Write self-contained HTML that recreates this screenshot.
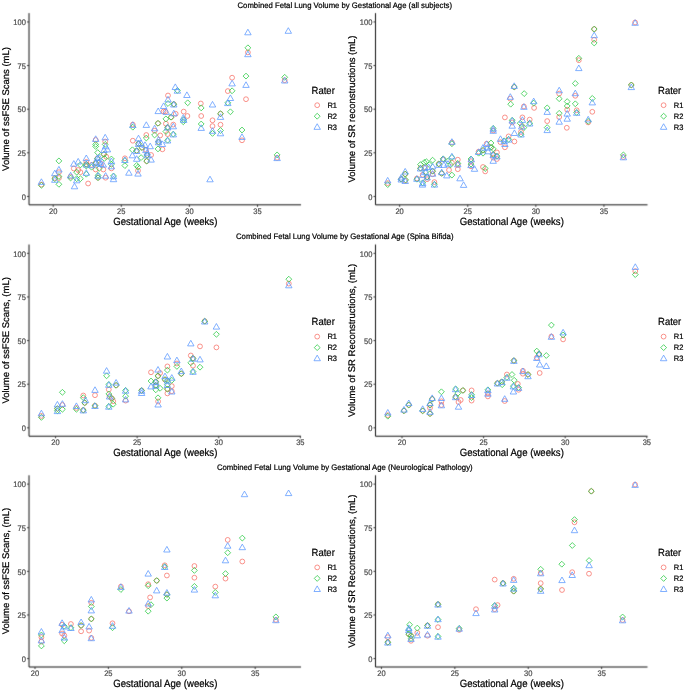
<!DOCTYPE html>
<html><head><meta charset="utf-8"><style>
html,body{margin:0;padding:0;background:#fff;width:685px;height:690px;overflow:hidden;font-family:"Liberation Sans", sans-serif;}
svg{display:block;will-change:transform;text-rendering:geometricPrecision;}
</style></head><body>
<svg width="685" height="690" viewBox="0 0 685 690" font-family='"Liberation Sans", sans-serif'>
<defs><filter id="b" x="0" y="0" width="685" height="690" filterUnits="userSpaceOnUse" color-interpolation-filters="sRGB"><feConvolveMatrix order="3" kernelMatrix="1 6 1 6 36 6 1 6 1" divisor="64" edgeMode="duplicate" preserveAlpha="true"/></filter></defs><g filter="url(#b)">
<rect width="685" height="690" fill="#fff"/>
<path d="M29.03 13.14V204.84H301.0" fill="none" stroke="#111111" stroke-width="1" stroke-linejoin="round" stroke-linecap="butt"/>
<path d="M27.03 196.44H29.03" stroke="#333333" stroke-width="1"/>
<path d="M27.03 152.81H29.03" stroke="#333333" stroke-width="1"/>
<path d="M27.03 109.19H29.03" stroke="#333333" stroke-width="1"/>
<path d="M27.03 65.56H29.03" stroke="#333333" stroke-width="1"/>
<path d="M27.03 21.94H29.03" stroke="#333333" stroke-width="1"/>
<path d="M53.20 204.84V206.84" stroke="#333333" stroke-width="1"/>
<path d="M121.30 204.84V206.84" stroke="#333333" stroke-width="1"/>
<path d="M189.40 204.84V206.84" stroke="#333333" stroke-width="1"/>
<path d="M257.50 204.84V206.84" stroke="#333333" stroke-width="1"/>
<path d="M375.5 13.14V204.84H647.5" fill="none" stroke="#111111" stroke-width="1" stroke-linejoin="round" stroke-linecap="butt"/>
<path d="M373.5 196.44H375.5" stroke="#333333" stroke-width="1"/>
<path d="M373.5 152.81H375.5" stroke="#333333" stroke-width="1"/>
<path d="M373.5 109.19H375.5" stroke="#333333" stroke-width="1"/>
<path d="M373.5 65.56H375.5" stroke="#333333" stroke-width="1"/>
<path d="M373.5 21.94H375.5" stroke="#333333" stroke-width="1"/>
<path d="M399.65 204.84V206.84" stroke="#333333" stroke-width="1"/>
<path d="M467.75 204.84V206.84" stroke="#333333" stroke-width="1"/>
<path d="M535.85 204.84V206.84" stroke="#333333" stroke-width="1"/>
<path d="M603.95 204.84V206.84" stroke="#333333" stroke-width="1"/>
<path d="M29.03 244.53V436.23H301.0" fill="none" stroke="#111111" stroke-width="1" stroke-linejoin="round" stroke-linecap="butt"/>
<path d="M27.03 427.83H29.03" stroke="#333333" stroke-width="1"/>
<path d="M27.03 384.21H29.03" stroke="#333333" stroke-width="1"/>
<path d="M27.03 340.58H29.03" stroke="#333333" stroke-width="1"/>
<path d="M27.03 296.96H29.03" stroke="#333333" stroke-width="1"/>
<path d="M27.03 253.33H29.03" stroke="#333333" stroke-width="1"/>
<path d="M55.55 436.23V438.23" stroke="#333333" stroke-width="1"/>
<path d="M137.15 436.23V438.23" stroke="#333333" stroke-width="1"/>
<path d="M218.75 436.23V438.23" stroke="#333333" stroke-width="1"/>
<path d="M300.35 436.23V438.23" stroke="#333333" stroke-width="1"/>
<path d="M375.5 244.53V436.23H647.5" fill="none" stroke="#111111" stroke-width="1" stroke-linejoin="round" stroke-linecap="butt"/>
<path d="M373.5 427.83H375.5" stroke="#333333" stroke-width="1"/>
<path d="M373.5 384.21H375.5" stroke="#333333" stroke-width="1"/>
<path d="M373.5 340.58H375.5" stroke="#333333" stroke-width="1"/>
<path d="M373.5 296.96H375.5" stroke="#333333" stroke-width="1"/>
<path d="M373.5 253.33H375.5" stroke="#333333" stroke-width="1"/>
<path d="M402.00 436.23V438.23" stroke="#333333" stroke-width="1"/>
<path d="M483.60 436.23V438.23" stroke="#333333" stroke-width="1"/>
<path d="M565.20 436.23V438.23" stroke="#333333" stroke-width="1"/>
<path d="M646.80 436.23V438.23" stroke="#333333" stroke-width="1"/>
<path d="M29.03 475.30V667.0H301.0" fill="none" stroke="#111111" stroke-width="1" stroke-linejoin="round" stroke-linecap="butt"/>
<path d="M27.03 658.60H29.03" stroke="#333333" stroke-width="1"/>
<path d="M27.03 614.98H29.03" stroke="#333333" stroke-width="1"/>
<path d="M27.03 571.35H29.03" stroke="#333333" stroke-width="1"/>
<path d="M27.03 527.73H29.03" stroke="#333333" stroke-width="1"/>
<path d="M27.03 484.10H29.03" stroke="#333333" stroke-width="1"/>
<path d="M35.00 667.0V669.00" stroke="#333333" stroke-width="1"/>
<path d="M108.40 667.0V669.00" stroke="#333333" stroke-width="1"/>
<path d="M181.80 667.0V669.00" stroke="#333333" stroke-width="1"/>
<path d="M255.20 667.0V669.00" stroke="#333333" stroke-width="1"/>
<path d="M375.5 475.30V667.0H647.5" fill="none" stroke="#111111" stroke-width="1" stroke-linejoin="round" stroke-linecap="butt"/>
<path d="M373.5 658.60H375.5" stroke="#333333" stroke-width="1"/>
<path d="M373.5 614.98H375.5" stroke="#333333" stroke-width="1"/>
<path d="M373.5 571.35H375.5" stroke="#333333" stroke-width="1"/>
<path d="M373.5 527.73H375.5" stroke="#333333" stroke-width="1"/>
<path d="M373.5 484.10H375.5" stroke="#333333" stroke-width="1"/>
<path d="M381.45 667.0V669.00" stroke="#333333" stroke-width="1"/>
<path d="M454.85 667.0V669.00" stroke="#333333" stroke-width="1"/>
<path d="M528.25 667.0V669.00" stroke="#333333" stroke-width="1"/>
<path d="M601.65 667.0V669.00" stroke="#333333" stroke-width="1"/>
</g>
<g><text transform="translate(237.54,7.75) scale(0.9663,1)" font-size="8.0" fill="#000" stroke="#000" stroke-width="0.22">Combined Fetal Lung Volume by Gestational Age (all subjects)</text>
<g fill="none" stroke-width="0.8"><circle cx="41.4" cy="184.6" r="2.40" stroke="#F8766D"/><circle cx="58.9" cy="172.2" r="2.40" stroke="#F8766D"/><circle cx="58.9" cy="178.0" r="2.40" stroke="#F8766D"/><circle cx="54.8" cy="178.0" r="2.40" stroke="#F8766D"/><circle cx="70.6" cy="176.6" r="2.40" stroke="#F8766D"/><circle cx="73.8" cy="168.5" r="2.40" stroke="#F8766D"/><circle cx="78.2" cy="170.0" r="2.40" stroke="#F8766D"/><circle cx="80.4" cy="172.2" r="2.40" stroke="#F8766D"/><circle cx="95.7" cy="140.0" r="2.40" stroke="#F8766D"/><circle cx="105.2" cy="141.5" r="2.40" stroke="#F8766D"/><circle cx="124.9" cy="158.3" r="2.40" stroke="#F8766D"/><circle cx="165.5" cy="111.6" r="2.40" stroke="#F8766D"/><circle cx="175.7" cy="113.8" r="2.40" stroke="#F8766D"/><circle cx="183.7" cy="111.6" r="2.40" stroke="#F8766D"/><circle cx="187.4" cy="116.0" r="2.40" stroke="#F8766D"/><circle cx="201.2" cy="116.0" r="2.40" stroke="#F8766D"/><circle cx="168.0" cy="95.5" r="2.40" stroke="#F8766D"/><circle cx="163.6" cy="111.5" r="2.40" stroke="#F8766D"/><circle cx="173.8" cy="104.2" r="2.40" stroke="#F8766D"/><circle cx="200.8" cy="103.5" r="2.40" stroke="#F8766D"/><circle cx="212.5" cy="120.3" r="2.40" stroke="#F8766D"/><circle cx="212.5" cy="126.1" r="2.40" stroke="#F8766D"/><circle cx="220.5" cy="113.7" r="2.40" stroke="#F8766D"/><circle cx="220.5" cy="124.7" r="2.40" stroke="#F8766D"/><circle cx="227.8" cy="91.1" r="2.40" stroke="#F8766D"/><circle cx="247.9" cy="52.4" r="2.40" stroke="#F8766D"/><circle cx="246.0" cy="99.2" r="2.40" stroke="#F8766D"/><circle cx="232.1" cy="77.7" r="2.40" stroke="#F8766D"/><circle cx="242.0" cy="140.3" r="2.40" stroke="#F8766D"/><circle cx="277.1" cy="157.8" r="2.40" stroke="#F8766D"/><circle cx="284.7" cy="80.2" r="2.40" stroke="#F8766D"/><circle cx="103.9" cy="154.3" r="2.40" stroke="#F8766D"/><circle cx="106.2" cy="156.7" r="2.40" stroke="#F8766D"/><circle cx="86.3" cy="161.9" r="2.40" stroke="#F8766D"/><circle cx="86.3" cy="164.3" r="2.40" stroke="#F8766D"/><circle cx="91.6" cy="164.9" r="2.40" stroke="#F8766D"/><circle cx="97.4" cy="158.5" r="2.40" stroke="#F8766D"/><circle cx="95.7" cy="163.1" r="2.40" stroke="#F8766D"/><circle cx="100.9" cy="163.7" r="2.40" stroke="#F8766D"/><circle cx="95.7" cy="169.5" r="2.40" stroke="#F8766D"/><circle cx="103.3" cy="169.5" r="2.40" stroke="#F8766D"/><circle cx="111.4" cy="168.4" r="2.40" stroke="#F8766D"/><circle cx="98.0" cy="177.7" r="2.40" stroke="#F8766D"/><circle cx="105.6" cy="177.7" r="2.40" stroke="#F8766D"/><circle cx="88.1" cy="183.5" r="2.40" stroke="#F8766D"/><circle cx="132.8" cy="124.6" r="2.40" stroke="#F8766D"/><circle cx="158.0" cy="123.3" r="2.40" stroke="#F8766D"/><circle cx="171.1" cy="117.2" r="2.40" stroke="#F8766D"/><circle cx="154.6" cy="130.7" r="2.40" stroke="#F8766D"/><circle cx="146.3" cy="135.0" r="2.40" stroke="#F8766D"/><circle cx="160.2" cy="135.4" r="2.40" stroke="#F8766D"/><circle cx="165.9" cy="123.7" r="2.40" stroke="#F8766D"/><circle cx="167.6" cy="127.9" r="2.40" stroke="#F8766D"/><circle cx="167.6" cy="134.1" r="2.40" stroke="#F8766D"/><circle cx="173.3" cy="124.6" r="2.40" stroke="#F8766D"/><circle cx="132.8" cy="140.7" r="2.40" stroke="#F8766D"/><circle cx="138.5" cy="143.7" r="2.40" stroke="#F8766D"/><circle cx="158.5" cy="142.0" r="2.40" stroke="#F8766D"/><circle cx="162.4" cy="149.3" r="2.40" stroke="#F8766D"/><circle cx="136.7" cy="150.7" r="2.40" stroke="#F8766D"/><circle cx="142.0" cy="147.6" r="2.40" stroke="#F8766D"/><circle cx="145.9" cy="149.8" r="2.40" stroke="#F8766D"/><circle cx="147.2" cy="155.0" r="2.40" stroke="#F8766D"/><circle cx="151.1" cy="155.0" r="2.40" stroke="#F8766D"/><circle cx="146.7" cy="161.1" r="2.40" stroke="#F8766D"/><circle cx="138.0" cy="170.7" r="2.40" stroke="#F8766D"/><path d="M41.4 182.37L44.33 185.3L41.4 188.23L38.47 185.3Z" stroke="#2ECC48"/><path d="M58.9 157.97L61.83 160.9L58.9 163.83L55.97 160.9Z" stroke="#2ECC48"/><path d="M58.9 173.57L61.83 176.5L58.9 179.43L55.97 176.5Z" stroke="#2ECC48"/><path d="M58.9 181.37L61.83 184.3L58.9 187.23L55.97 184.3Z" stroke="#2ECC48"/><path d="M54.8 175.77L57.73 178.7L54.8 181.63L51.87 178.7Z" stroke="#2ECC48"/><path d="M70.6 175.07L73.53 178.0L70.6 180.93L67.67 178.0Z" stroke="#2ECC48"/><path d="M80.4 161.97L83.33 164.9L80.4 167.83L77.47 164.9Z" stroke="#2ECC48"/><path d="M76.7 169.27L79.63 172.2L76.7 175.13L73.77 172.2Z" stroke="#2ECC48"/><path d="M76.7 175.77L79.63 178.7L76.7 181.63L73.77 178.7Z" stroke="#2ECC48"/><path d="M80.4 175.77L83.33 178.7L80.4 181.63L77.47 178.7Z" stroke="#2ECC48"/><path d="M95.7 141.47L98.63 144.4L95.7 147.33L92.77 144.4Z" stroke="#2ECC48"/><path d="M105.2 141.47L108.13 144.4L105.2 147.33L102.27 144.4Z" stroke="#2ECC48"/><path d="M124.9 157.57L127.83 160.5L124.9 163.43L121.97 160.5Z" stroke="#2ECC48"/><path d="M124.9 162.67L127.83 165.6L124.9 168.53L121.97 165.6Z" stroke="#2ECC48"/><path d="M183.7 116.67L186.63 119.6L183.7 122.53L180.77 119.6Z" stroke="#2ECC48"/><path d="M201.2 104.97L204.13 107.9L201.2 110.83L198.27 107.9Z" stroke="#2ECC48"/><path d="M201.2 121.07L204.13 124.0L201.2 126.93L198.27 124.0Z" stroke="#2ECC48"/><path d="M177.4 87.47L180.33 90.4L177.4 93.33L174.47 90.4Z" stroke="#2ECC48"/><path d="M168.0 100.57L170.93 103.5L168.0 106.43L165.07 103.5Z" stroke="#2ECC48"/><path d="M173.8 101.27L176.73 104.2L173.8 107.13L170.87 104.2Z" stroke="#2ECC48"/><path d="M187.7 99.87L190.63 102.8L187.7 105.73L184.77 102.8Z" stroke="#2ECC48"/><path d="M183.3 118.87L186.23 121.8L183.3 124.73L180.37 121.8Z" stroke="#2ECC48"/><path d="M212.5 130.47L215.43 133.4L212.5 136.33L209.57 133.4Z" stroke="#2ECC48"/><path d="M220.5 110.77L223.43 113.7L220.5 116.63L217.57 113.7Z" stroke="#2ECC48"/><path d="M220.5 127.57L223.43 130.5L220.5 133.43L217.57 130.5Z" stroke="#2ECC48"/><path d="M227.8 99.87L230.73 102.8L227.8 105.73L224.87 102.8Z" stroke="#2ECC48"/><path d="M247.9 44.87L250.83 47.8L247.9 50.73L244.97 47.8Z" stroke="#2ECC48"/><path d="M246.0 73.17L248.93 76.1L246.0 79.03L243.07 76.1Z" stroke="#2ECC48"/><path d="M232.1 87.87L235.03 90.8L232.1 93.73L229.17 90.8Z" stroke="#2ECC48"/><path d="M230.4 108.87L233.33 111.8L230.4 114.73L227.47 111.8Z" stroke="#2ECC48"/><path d="M242.0 127.07L244.93 130.0L242.0 132.93L239.07 130.0Z" stroke="#2ECC48"/><path d="M277.1 151.97L280.03 154.9L277.1 157.83L274.17 154.9Z" stroke="#2ECC48"/><path d="M284.7 74.37L287.63 77.3L284.7 80.23L281.77 77.3Z" stroke="#2ECC48"/><path d="M95.7 143.57L98.63 146.5L95.7 149.43L92.77 146.5Z" stroke="#2ECC48"/><path d="M97.7 149.67L100.63 152.6L97.7 155.53L94.77 152.6Z" stroke="#2ECC48"/><path d="M103.9 151.37L106.83 154.3L103.9 157.23L100.97 154.3Z" stroke="#2ECC48"/><path d="M104.4 155.47L107.33 158.4L104.4 161.33L101.47 158.4Z" stroke="#2ECC48"/><path d="M111.4 156.07L114.33 159.0L111.4 161.93L108.47 159.0Z" stroke="#2ECC48"/><path d="M86.3 161.37L89.23 164.3L86.3 167.23L83.37 164.3Z" stroke="#2ECC48"/><path d="M86.3 163.07L89.23 166.0L86.3 168.93L83.37 166.0Z" stroke="#2ECC48"/><path d="M91.6 164.27L94.53 167.2L91.6 170.13L88.67 167.2Z" stroke="#2ECC48"/><path d="M97.4 155.57L100.33 158.5L97.4 161.43L94.47 158.5Z" stroke="#2ECC48"/><path d="M95.7 160.17L98.63 163.1L95.7 166.03L92.77 163.1Z" stroke="#2ECC48"/><path d="M99.2 165.47L102.13 168.4L99.2 171.33L96.27 168.4Z" stroke="#2ECC48"/><path d="M111.4 161.37L114.33 164.3L111.4 167.23L108.47 164.3Z" stroke="#2ECC48"/><path d="M86.3 171.27L89.23 174.2L86.3 177.13L83.37 174.2Z" stroke="#2ECC48"/><path d="M98.0 172.47L100.93 175.4L98.0 178.33L95.07 175.4Z" stroke="#2ECC48"/><path d="M98.0 174.77L100.93 177.7L98.0 180.63L95.07 177.7Z" stroke="#2ECC48"/><path d="M113.5 173.07L116.43 176.0L113.5 178.93L110.57 176.0Z" stroke="#2ECC48"/><path d="M132.8 124.27L135.73 127.2L132.8 130.13L129.87 127.2Z" stroke="#2ECC48"/><path d="M158.0 120.37L160.93 123.3L158.0 126.23L155.07 123.3Z" stroke="#2ECC48"/><path d="M165.9 115.97L168.83 118.9L165.9 121.83L162.97 118.9Z" stroke="#2ECC48"/><path d="M171.1 114.27L174.03 117.2L171.1 120.13L168.17 117.2Z" stroke="#2ECC48"/><path d="M154.6 132.07L157.53 135.0L154.6 137.93L151.67 135.0Z" stroke="#2ECC48"/><path d="M146.3 135.07L149.23 138.0L146.3 140.93L143.37 138.0Z" stroke="#2ECC48"/><path d="M167.6 124.27L170.53 127.2L167.6 130.13L164.67 127.2Z" stroke="#2ECC48"/><path d="M165.9 128.57L168.83 131.5L165.9 134.43L162.97 131.5Z" stroke="#2ECC48"/><path d="M173.3 131.17L176.23 134.1L173.3 137.03L170.37 134.1Z" stroke="#2ECC48"/><path d="M167.6 137.27L170.53 140.2L167.6 143.13L164.67 140.2Z" stroke="#2ECC48"/><path d="M138.5 140.77L141.43 143.7L138.5 146.63L135.57 143.7Z" stroke="#2ECC48"/><path d="M158.5 139.07L161.43 142.0L158.5 144.93L155.57 142.0Z" stroke="#2ECC48"/><path d="M158.0 145.97L160.93 148.9L158.0 151.83L155.07 148.9Z" stroke="#2ECC48"/><path d="M132.4 146.87L135.33 149.8L132.4 152.73L129.47 149.8Z" stroke="#2ECC48"/><path d="M136.7 147.77L139.63 150.7L136.7 153.63L133.77 150.7Z" stroke="#2ECC48"/><path d="M142.0 144.67L144.93 147.6L142.0 150.53L139.07 147.6Z" stroke="#2ECC48"/><path d="M141.1 154.67L144.03 157.6L141.1 160.53L138.17 157.6Z" stroke="#2ECC48"/><path d="M147.2 152.07L150.13 155.0L147.2 157.93L144.27 155.0Z" stroke="#2ECC48"/><path d="M146.7 158.17L149.63 161.1L146.7 164.03L143.77 161.1Z" stroke="#2ECC48"/><path d="M136.7 162.47L139.63 165.4L136.7 168.33L133.77 165.4Z" stroke="#2ECC48"/><path d="M138.0 164.27L140.93 167.2L138.0 170.13L135.07 167.2Z" stroke="#2ECC48"/><path d="M41.4 178.80L44.63 184.40L38.17 184.40Z" stroke="#619CFF"/><path d="M58.9 166.40L62.13 172.00L55.67 172.00Z" stroke="#619CFF"/><path d="M54.8 170.10L58.03 175.70L51.57 175.70Z" stroke="#619CFF"/><path d="M54.8 176.70L58.03 182.30L51.57 182.30Z" stroke="#619CFF"/><path d="M70.6 172.30L73.83 177.90L67.37 177.90Z" stroke="#619CFF"/><path d="M74.5 183.20L77.73 188.80L71.27 188.80Z" stroke="#619CFF"/><path d="M73.8 160.60L77.03 166.20L70.57 166.20Z" stroke="#619CFF"/><path d="M78.2 158.40L81.43 164.00L74.97 164.00Z" stroke="#619CFF"/><path d="M76.7 177.20L79.93 182.80L73.47 182.80Z" stroke="#619CFF"/><path d="M95.7 135.80L98.93 141.40L92.47 141.40Z" stroke="#619CFF"/><path d="M105.2 134.30L108.43 139.90L101.97 139.90Z" stroke="#619CFF"/><path d="M124.9 156.90L128.13 162.50L121.67 162.50Z" stroke="#619CFF"/><path d="M158.2 108.00L161.43 113.60L154.97 113.60Z" stroke="#619CFF"/><path d="M166.2 108.80L169.43 114.40L162.97 114.40Z" stroke="#619CFF"/><path d="M183.7 116.80L186.93 122.40L180.47 122.40Z" stroke="#619CFF"/><path d="M201.2 124.80L204.43 130.40L197.97 130.40Z" stroke="#619CFF"/><path d="M210.0 176.20L213.23 181.80L206.77 181.80Z" stroke="#619CFF"/><path d="M175.3 83.90L178.53 89.50L172.07 89.50Z" stroke="#619CFF"/><path d="M177.4 87.60L180.63 93.20L174.17 93.20Z" stroke="#619CFF"/><path d="M168.0 96.30L171.23 101.90L164.77 101.90Z" stroke="#619CFF"/><path d="M163.6 102.90L166.83 108.50L160.37 108.50Z" stroke="#619CFF"/><path d="M173.8 101.40L177.03 107.00L170.57 107.00Z" stroke="#619CFF"/><path d="M186.9 91.90L190.13 97.50L183.67 97.50Z" stroke="#619CFF"/><path d="M173.8 110.20L177.03 115.80L170.57 115.80Z" stroke="#619CFF"/><path d="M183.3 114.60L186.53 120.20L180.07 120.20Z" stroke="#619CFF"/><path d="M212.5 101.40L215.73 107.00L209.27 107.00Z" stroke="#619CFF"/><path d="M212.5 127.70L215.73 133.30L209.27 133.30Z" stroke="#619CFF"/><path d="M220.5 113.80L223.73 119.40L217.27 119.40Z" stroke="#619CFF"/><path d="M220.5 130.20L223.73 135.80L217.27 135.80Z" stroke="#619CFF"/><path d="M227.8 100.00L231.03 105.60L224.57 105.60Z" stroke="#619CFF"/><path d="M247.9 29.20L251.13 34.80L244.67 34.80Z" stroke="#619CFF"/><path d="M247.9 51.10L251.13 56.70L244.67 56.70Z" stroke="#619CFF"/><path d="M288.3 27.70L291.53 33.30L285.07 33.30Z" stroke="#619CFF"/><path d="M246.0 81.80L249.23 87.40L242.77 87.40Z" stroke="#619CFF"/><path d="M232.1 80.30L235.33 85.90L228.87 85.90Z" stroke="#619CFF"/><path d="M230.4 94.90L233.63 100.50L227.17 100.50Z" stroke="#619CFF"/><path d="M242.0 133.80L245.23 139.40L238.77 139.40Z" stroke="#619CFF"/><path d="M277.1 155.00L280.33 160.60L273.87 160.60Z" stroke="#619CFF"/><path d="M284.7 77.40L287.93 83.00L281.47 83.00Z" stroke="#619CFF"/><path d="M105.6 143.20L108.83 148.80L102.37 148.80Z" stroke="#619CFF"/><path d="M103.9 146.90L107.13 152.50L100.67 152.50Z" stroke="#619CFF"/><path d="M107.4 146.30L110.63 151.90L104.17 151.90Z" stroke="#619CFF"/><path d="M111.4 158.00L114.63 163.60L108.17 163.60Z" stroke="#619CFF"/><path d="M86.3 155.00L89.53 160.60L83.07 160.60Z" stroke="#619CFF"/><path d="M86.3 161.50L89.53 167.10L83.07 167.10Z" stroke="#619CFF"/><path d="M91.6 162.10L94.83 167.70L88.37 167.70Z" stroke="#619CFF"/><path d="M97.4 155.00L100.63 160.60L94.17 160.60Z" stroke="#619CFF"/><path d="M99.2 154.40L102.43 160.00L95.97 160.00Z" stroke="#619CFF"/><path d="M95.7 160.30L98.93 165.90L92.47 165.90Z" stroke="#619CFF"/><path d="M98.6 159.20L101.83 164.80L95.37 164.80Z" stroke="#619CFF"/><path d="M100.9 160.90L104.13 166.50L97.67 166.50Z" stroke="#619CFF"/><path d="M103.3 161.50L106.53 167.10L100.07 167.10Z" stroke="#619CFF"/><path d="M111.4 163.20L114.63 168.80L108.17 168.80Z" stroke="#619CFF"/><path d="M86.3 169.70L89.53 175.30L83.07 175.30Z" stroke="#619CFF"/><path d="M98.0 172.60L101.23 178.20L94.77 178.20Z" stroke="#619CFF"/><path d="M105.6 172.60L108.83 178.20L102.37 178.20Z" stroke="#619CFF"/><path d="M113.5 173.20L116.73 178.80L110.27 178.80Z" stroke="#619CFF"/><path d="M113.5 176.10L116.73 181.70L110.27 181.70Z" stroke="#619CFF"/><path d="M132.8 121.80L136.03 127.40L129.57 127.40Z" stroke="#619CFF"/><path d="M146.3 121.80L149.53 127.40L143.07 127.40Z" stroke="#619CFF"/><path d="M154.6 125.20L157.83 130.80L151.37 130.80Z" stroke="#619CFF"/><path d="M167.6 124.40L170.83 130.00L164.37 130.00Z" stroke="#619CFF"/><path d="M173.3 123.20L176.53 128.80L170.07 128.80Z" stroke="#619CFF"/><path d="M173.3 131.30L176.53 136.90L170.07 136.90Z" stroke="#619CFF"/><path d="M167.6 137.40L170.83 143.00L164.37 143.00Z" stroke="#619CFF"/><path d="M138.5 135.20L141.73 140.80L135.27 140.80Z" stroke="#619CFF"/><path d="M138.5 140.90L141.73 146.50L135.27 146.50Z" stroke="#619CFF"/><path d="M141.1 140.00L144.33 145.60L137.87 145.60Z" stroke="#619CFF"/><path d="M158.5 136.50L161.73 142.10L155.27 142.10Z" stroke="#619CFF"/><path d="M158.5 139.20L161.73 144.80L155.27 144.80Z" stroke="#619CFF"/><path d="M162.4 140.90L165.63 146.50L159.17 146.50Z" stroke="#619CFF"/><path d="M145.0 141.80L148.23 147.40L141.77 147.40Z" stroke="#619CFF"/><path d="M150.2 143.10L153.43 148.70L146.97 148.70Z" stroke="#619CFF"/><path d="M136.7 147.90L139.93 153.50L133.47 153.50Z" stroke="#619CFF"/><path d="M132.4 152.20L135.63 157.80L129.17 157.80Z" stroke="#619CFF"/><path d="M145.9 147.00L149.13 152.60L142.67 152.60Z" stroke="#619CFF"/><path d="M136.7 155.70L139.93 161.30L133.47 161.30Z" stroke="#619CFF"/><path d="M147.2 149.60L150.43 155.20L143.97 155.20Z" stroke="#619CFF"/><path d="M147.2 152.20L150.43 157.80L143.97 157.80Z" stroke="#619CFF"/><path d="M151.1 156.50L154.33 162.10L147.87 162.10Z" stroke="#619CFF"/><path d="M138.0 170.50L141.23 176.10L134.77 176.10Z" stroke="#619CFF"/><path d="M128.9 169.60L132.13 175.20L125.67 175.20Z" stroke="#619CFF"/></g>
<text transform="translate(21.69,199.64) scale(0.9350,1)" font-size="8.05" fill="#4D4D4D" stroke="#4D4D4D" stroke-width="0.22">0</text>
<text transform="translate(17.53,156.01) scale(0.9350,1)" font-size="8.05" fill="#4D4D4D" stroke="#4D4D4D" stroke-width="0.22">25</text>
<text transform="translate(17.50,112.39) scale(0.9350,1)" font-size="8.05" fill="#4D4D4D" stroke="#4D4D4D" stroke-width="0.22">50</text>
<text transform="translate(17.53,68.77) scale(0.9350,1)" font-size="8.05" fill="#4D4D4D" stroke="#4D4D4D" stroke-width="0.22">75</text>
<text transform="translate(13.32,25.14) scale(0.9350,1)" font-size="8.05" fill="#4D4D4D" stroke="#4D4D4D" stroke-width="0.22">100</text>
<text transform="translate(48.97,213.89) scale(0.9350,1)" font-size="8.05" fill="#4D4D4D" stroke="#4D4D4D" stroke-width="0.22">20</text>
<text transform="translate(117.09,213.89) scale(0.9350,1)" font-size="8.05" fill="#4D4D4D" stroke="#4D4D4D" stroke-width="0.22">25</text>
<text transform="translate(185.22,213.89) scale(0.9350,1)" font-size="8.05" fill="#4D4D4D" stroke="#4D4D4D" stroke-width="0.22">30</text>
<text transform="translate(253.33,213.89) scale(0.9350,1)" font-size="8.05" fill="#4D4D4D" stroke="#4D4D4D" stroke-width="0.22">35</text>
<text transform="translate(113.24,224.94) scale(0.9150,1)" font-size="10.5" fill="#000" stroke="#000" stroke-width="0.22">Gestational Age (weeks)</text>
<text transform="translate(8.60,170.89) rotate(-90) scale(0.9930,1)" font-size="9.55" fill="#000" stroke="#000" stroke-width="0.22">Volume of ssFSE Scans (mL)</text>
<text transform="translate(311.62,93.94) scale(0.9120,1)" font-size="10.4" fill="#000" stroke="#000" stroke-width="0.22">Rater</text>
<g fill="none" stroke-width="0.8"><circle cx="317.2" cy="105.2" r="2.40" stroke="#F8766D"/></g>
<text transform="translate(327.39,108.09) scale(0.9600,1)" font-size="7.8" fill="#000" stroke="#000" stroke-width="0.22">R1</text>
<g fill="none" stroke-width="0.8"><path d="M317.2 113.31L320.13 116.2L317.2 119.17L314.27 116.2Z" stroke="#2ECC48"/></g>
<text transform="translate(327.39,119.09) scale(0.9600,1)" font-size="7.8" fill="#000" stroke="#000" stroke-width="0.22">R2</text>
<g fill="none" stroke-width="0.8"><path d="M317.2 123.74L320.43 129.34L313.97 129.34Z" stroke="#619CFF"/></g>
<text transform="translate(327.39,130.09) scale(0.9600,1)" font-size="7.8" fill="#000" stroke="#000" stroke-width="0.22">R3</text>
<g fill="none" stroke-width="0.8"><circle cx="387.7" cy="183.1" r="2.40" stroke="#F8766D"/><circle cx="451.9" cy="142.6" r="2.40" stroke="#F8766D"/><circle cx="451.9" cy="162.7" r="2.40" stroke="#F8766D"/><circle cx="449.0" cy="170.0" r="2.40" stroke="#F8766D"/><circle cx="457.8" cy="159.7" r="2.40" stroke="#F8766D"/><circle cx="457.8" cy="164.8" r="2.40" stroke="#F8766D"/><circle cx="457.8" cy="169.2" r="2.40" stroke="#F8766D"/><circle cx="471.0" cy="161.2" r="2.40" stroke="#F8766D"/><circle cx="471.0" cy="166.3" r="2.40" stroke="#F8766D"/><circle cx="478.6" cy="151.7" r="2.40" stroke="#F8766D"/><circle cx="483.0" cy="150.3" r="2.40" stroke="#F8766D"/><circle cx="483.0" cy="167.0" r="2.40" stroke="#F8766D"/><circle cx="485.2" cy="171.4" r="2.40" stroke="#F8766D"/><circle cx="486.7" cy="143.7" r="2.40" stroke="#F8766D"/><circle cx="491.0" cy="147.3" r="2.40" stroke="#F8766D"/><circle cx="493.2" cy="154.6" r="2.40" stroke="#F8766D"/><circle cx="493.2" cy="157.6" r="2.40" stroke="#F8766D"/><circle cx="496.9" cy="152.4" r="2.40" stroke="#F8766D"/><circle cx="496.9" cy="159.0" r="2.40" stroke="#F8766D"/><circle cx="493.2" cy="130.5" r="2.40" stroke="#F8766D"/><circle cx="500.5" cy="142.2" r="2.40" stroke="#F8766D"/><circle cx="504.9" cy="147.3" r="2.40" stroke="#F8766D"/><circle cx="508.6" cy="136.4" r="2.40" stroke="#F8766D"/><circle cx="514.4" cy="141.5" r="2.40" stroke="#F8766D"/><circle cx="504.9" cy="117.4" r="2.40" stroke="#F8766D"/><circle cx="512.2" cy="122.5" r="2.40" stroke="#F8766D"/><circle cx="521.7" cy="126.2" r="2.40" stroke="#F8766D"/><circle cx="522.4" cy="117.4" r="2.40" stroke="#F8766D"/><circle cx="521.0" cy="132.0" r="2.40" stroke="#F8766D"/><circle cx="529.7" cy="119.6" r="2.40" stroke="#F8766D"/><circle cx="523.9" cy="106.5" r="2.40" stroke="#F8766D"/><circle cx="534.1" cy="107.9" r="2.40" stroke="#F8766D"/><circle cx="547.2" cy="121.1" r="2.40" stroke="#F8766D"/><circle cx="514.2" cy="87.0" r="2.40" stroke="#F8766D"/><circle cx="510.3" cy="98.7" r="2.40" stroke="#F8766D"/><circle cx="559.2" cy="93.6" r="2.40" stroke="#F8766D"/><circle cx="559.2" cy="117.0" r="2.40" stroke="#F8766D"/><circle cx="567.2" cy="109.7" r="2.40" stroke="#F8766D"/><circle cx="566.8" cy="127.8" r="2.40" stroke="#F8766D"/><circle cx="575.3" cy="95.8" r="2.40" stroke="#F8766D"/><circle cx="576.7" cy="110.3" r="2.40" stroke="#F8766D"/><circle cx="635.1" cy="22.5" r="2.40" stroke="#F8766D"/><circle cx="594.2" cy="29.1" r="2.40" stroke="#F8766D"/><circle cx="594.2" cy="39.7" r="2.40" stroke="#F8766D"/><circle cx="578.8" cy="60.2" r="2.40" stroke="#F8766D"/><circle cx="592.3" cy="111.8" r="2.40" stroke="#F8766D"/><circle cx="631.3" cy="85.0" r="2.40" stroke="#F8766D"/><circle cx="588.2" cy="122.4" r="2.40" stroke="#F8766D"/><circle cx="623.4" cy="157.0" r="2.40" stroke="#F8766D"/><circle cx="405.2" cy="174.1" r="2.40" stroke="#F8766D"/><circle cx="405.2" cy="180.7" r="2.40" stroke="#F8766D"/><circle cx="401.2" cy="179.2" r="2.40" stroke="#F8766D"/><circle cx="416.9" cy="178.5" r="2.40" stroke="#F8766D"/><circle cx="420.5" cy="168.2" r="2.40" stroke="#F8766D"/><circle cx="422.7" cy="174.8" r="2.40" stroke="#F8766D"/><circle cx="424.9" cy="167.5" r="2.40" stroke="#F8766D"/><circle cx="427.1" cy="177.0" r="2.40" stroke="#F8766D"/><circle cx="427.1" cy="179.2" r="2.40" stroke="#F8766D"/><circle cx="432.6" cy="171.2" r="2.40" stroke="#F8766D"/><circle cx="432.6" cy="174.2" r="2.40" stroke="#F8766D"/><circle cx="434.4" cy="182.1" r="2.40" stroke="#F8766D"/><circle cx="438.8" cy="163.9" r="2.40" stroke="#F8766D"/><circle cx="441.7" cy="173.4" r="2.40" stroke="#F8766D"/><circle cx="443.2" cy="159.5" r="2.40" stroke="#F8766D"/><path d="M387.7 181.67L390.63 184.6L387.7 187.53L384.77 184.6Z" stroke="#2ECC48"/><path d="M451.9 140.77L454.83 143.7L451.9 146.63L448.97 143.7Z" stroke="#2ECC48"/><path d="M451.9 154.47L454.83 157.4L451.9 160.33L448.97 157.4Z" stroke="#2ECC48"/><path d="M450.5 161.97L453.43 164.9L450.5 167.83L447.57 164.9Z" stroke="#2ECC48"/><path d="M451.9 172.17L454.83 175.1L451.9 178.03L448.97 175.1Z" stroke="#2ECC48"/><path d="M448.0 158.27L450.93 161.2L448.0 164.13L445.07 161.2Z" stroke="#2ECC48"/><path d="M457.8 160.47L460.73 163.4L457.8 166.33L454.87 163.4Z" stroke="#2ECC48"/><path d="M471.0 156.07L473.93 159.0L471.0 161.93L468.07 159.0Z" stroke="#2ECC48"/><path d="M471.0 161.17L473.93 164.1L471.0 167.03L468.07 164.1Z" stroke="#2ECC48"/><path d="M478.6 150.27L481.53 153.2L478.6 156.13L475.67 153.2Z" stroke="#2ECC48"/><path d="M483.0 147.37L485.93 150.3L483.0 153.23L480.07 150.3Z" stroke="#2ECC48"/><path d="M483.0 150.27L485.93 153.2L483.0 156.13L480.07 153.2Z" stroke="#2ECC48"/><path d="M485.2 165.57L488.13 168.5L485.2 171.43L482.27 168.5Z" stroke="#2ECC48"/><path d="M491.0 140.07L493.93 143.0L491.0 145.93L488.07 143.0Z" stroke="#2ECC48"/><path d="M491.0 144.37L493.93 147.3L491.0 150.23L488.07 147.3Z" stroke="#2ECC48"/><path d="M493.2 145.87L496.13 148.8L493.2 151.73L490.27 148.8Z" stroke="#2ECC48"/><path d="M493.2 151.67L496.13 154.6L493.2 157.53L490.27 154.6Z" stroke="#2ECC48"/><path d="M496.9 153.17L499.83 156.1L496.9 159.03L493.97 156.1Z" stroke="#2ECC48"/><path d="M493.2 125.47L496.13 128.4L493.2 131.33L490.27 128.4Z" stroke="#2ECC48"/><path d="M504.2 137.87L507.13 140.8L504.2 143.73L501.27 140.8Z" stroke="#2ECC48"/><path d="M508.6 136.37L511.53 139.3L508.6 142.23L505.67 139.3Z" stroke="#2ECC48"/><path d="M512.2 117.37L515.13 120.3L512.2 123.23L509.27 120.3Z" stroke="#2ECC48"/><path d="M520.2 120.27L523.13 123.2L520.2 126.13L517.27 123.2Z" stroke="#2ECC48"/><path d="M521.0 131.27L523.93 134.2L521.0 137.13L518.07 134.2Z" stroke="#2ECC48"/><path d="M523.9 124.67L526.83 127.6L523.9 130.53L520.97 127.6Z" stroke="#2ECC48"/><path d="M529.7 120.27L532.63 123.2L529.7 126.13L526.77 123.2Z" stroke="#2ECC48"/><path d="M547.2 104.97L550.13 107.9L547.2 110.83L544.27 107.9Z" stroke="#2ECC48"/><path d="M547.2 124.67L550.13 127.6L547.2 130.53L544.27 127.6Z" stroke="#2ECC48"/><path d="M510.7 101.27L513.63 104.2L510.7 107.13L507.77 104.2Z" stroke="#2ECC48"/><path d="M514.2 84.07L517.13 87.0L514.2 89.93L511.27 87.0Z" stroke="#2ECC48"/><path d="M524.2 90.67L527.13 93.6L524.2 96.53L521.27 93.6Z" stroke="#2ECC48"/><path d="M533.7 100.17L536.63 103.1L533.7 106.03L530.77 103.1Z" stroke="#2ECC48"/><path d="M559.2 95.77L562.13 98.7L559.2 101.63L556.27 98.7Z" stroke="#2ECC48"/><path d="M559.2 110.37L562.13 113.3L559.2 116.23L556.27 113.3Z" stroke="#2ECC48"/><path d="M567.2 98.67L570.13 101.6L567.2 104.53L564.27 101.6Z" stroke="#2ECC48"/><path d="M567.2 103.07L570.13 106.0L567.2 108.93L564.27 106.0Z" stroke="#2ECC48"/><path d="M575.3 80.47L578.23 83.4L575.3 86.33L572.37 83.4Z" stroke="#2ECC48"/><path d="M575.3 100.87L578.23 103.8L575.3 106.73L572.37 103.8Z" stroke="#2ECC48"/><path d="M576.7 109.57L579.63 112.5L576.7 115.43L573.77 112.5Z" stroke="#2ECC48"/><path d="M594.2 26.17L597.13 29.1L594.2 32.03L591.27 29.1Z" stroke="#2ECC48"/><path d="M594.2 40.07L597.13 43.0L594.2 45.93L591.27 43.0Z" stroke="#2ECC48"/><path d="M578.8 55.37L581.73 58.3L578.8 61.23L575.87 58.3Z" stroke="#2ECC48"/><path d="M592.3 95.47L595.23 98.4L592.3 101.33L589.37 98.4Z" stroke="#2ECC48"/><path d="M631.3 82.07L634.23 85.0L631.3 87.93L628.37 85.0Z" stroke="#2ECC48"/><path d="M588.2 118.37L591.13 121.3L588.2 124.23L585.27 121.3Z" stroke="#2ECC48"/><path d="M623.4 151.97L626.33 154.9L623.4 157.83L620.47 154.9Z" stroke="#2ECC48"/><path d="M405.2 171.17L408.13 174.1L405.2 177.03L402.27 174.1Z" stroke="#2ECC48"/><path d="M405.6 176.97L408.53 179.9L405.6 182.83L402.67 179.9Z" stroke="#2ECC48"/><path d="M401.2 176.27L404.13 179.2L401.2 182.13L398.27 179.2Z" stroke="#2ECC48"/><path d="M416.9 176.27L419.83 179.2L416.9 182.13L413.97 179.2Z" stroke="#2ECC48"/><path d="M420.5 165.27L423.43 168.2L420.5 171.13L417.57 168.2Z" stroke="#2ECC48"/><path d="M420.5 161.67L423.43 164.6L420.5 167.53L417.57 164.6Z" stroke="#2ECC48"/><path d="M422.7 179.87L425.63 182.8L422.7 185.73L419.77 182.8Z" stroke="#2ECC48"/><path d="M424.2 159.47L427.13 162.4L424.2 165.33L421.27 162.4Z" stroke="#2ECC48"/><path d="M426.4 158.77L429.33 161.7L426.4 164.63L423.47 161.7Z" stroke="#2ECC48"/><path d="M425.7 168.97L428.63 171.9L425.7 174.83L422.77 171.9Z" stroke="#2ECC48"/><path d="M427.1 174.07L430.03 177.0L427.1 179.93L424.17 177.0Z" stroke="#2ECC48"/><path d="M429.3 161.67L432.23 164.6L429.3 167.53L426.37 164.6Z" stroke="#2ECC48"/><path d="M432.6 157.27L435.53 160.2L432.6 163.13L429.67 160.2Z" stroke="#2ECC48"/><path d="M432.6 168.27L435.53 171.2L432.6 174.13L429.67 171.2Z" stroke="#2ECC48"/><path d="M434.4 181.37L437.33 184.3L434.4 187.23L431.47 184.3Z" stroke="#2ECC48"/><path d="M438.8 160.97L441.73 163.9L438.8 166.83L435.87 163.9Z" stroke="#2ECC48"/><path d="M441.7 170.47L444.63 173.4L441.7 176.33L438.77 173.4Z" stroke="#2ECC48"/><path d="M443.2 155.87L446.13 158.8L443.2 161.73L440.27 158.8Z" stroke="#2ECC48"/><path d="M387.7 177.40L390.93 183.00L384.47 183.00Z" stroke="#619CFF"/><path d="M451.9 138.70L455.13 144.30L448.67 144.30Z" stroke="#619CFF"/><path d="M451.9 153.30L455.13 158.90L448.67 158.90Z" stroke="#619CFF"/><path d="M446.8 172.30L450.03 177.90L443.57 177.90Z" stroke="#619CFF"/><path d="M448.0 160.60L451.23 166.20L444.77 166.20Z" stroke="#619CFF"/><path d="M457.8 161.30L461.03 166.90L454.57 166.90Z" stroke="#619CFF"/><path d="M460.0 175.20L463.23 180.80L456.77 180.80Z" stroke="#619CFF"/><path d="M463.6 181.80L466.83 187.40L460.37 187.40Z" stroke="#619CFF"/><path d="M471.0 162.00L474.23 167.60L467.77 167.60Z" stroke="#619CFF"/><path d="M474.5 165.70L477.73 171.30L471.27 171.30Z" stroke="#619CFF"/><path d="M471.3 156.20L474.53 161.80L468.07 161.80Z" stroke="#619CFF"/><path d="M478.6 148.90L481.83 154.50L475.37 154.50Z" stroke="#619CFF"/><path d="M483.0 144.50L486.23 150.10L479.77 150.10Z" stroke="#619CFF"/><path d="M486.7 140.90L489.93 146.50L483.47 146.50Z" stroke="#619CFF"/><path d="M487.4 144.50L490.63 150.10L484.17 150.10Z" stroke="#619CFF"/><path d="M488.1 148.20L491.33 153.80L484.87 153.80Z" stroke="#619CFF"/><path d="M493.2 151.80L496.43 157.40L489.97 157.40Z" stroke="#619CFF"/><path d="M493.2 157.70L496.43 163.30L489.97 163.30Z" stroke="#619CFF"/><path d="M496.9 153.30L500.13 158.90L493.67 158.90Z" stroke="#619CFF"/><path d="M493.2 125.60L496.43 131.20L489.97 131.20Z" stroke="#619CFF"/><path d="M493.2 127.70L496.43 133.30L489.97 133.30Z" stroke="#619CFF"/><path d="M500.5 135.80L503.73 141.40L497.27 141.40Z" stroke="#619CFF"/><path d="M504.2 138.00L507.43 143.60L500.97 143.60Z" stroke="#619CFF"/><path d="M504.9 140.90L508.13 146.50L501.67 146.50Z" stroke="#619CFF"/><path d="M508.6 136.50L511.83 142.10L505.37 142.10Z" stroke="#619CFF"/><path d="M512.2 117.50L515.43 123.10L508.97 123.10Z" stroke="#619CFF"/><path d="M512.2 122.60L515.43 128.20L508.97 128.20Z" stroke="#619CFF"/><path d="M514.4 129.90L517.63 135.50L511.17 135.50Z" stroke="#619CFF"/><path d="M521.7 123.40L524.93 129.00L518.47 129.00Z" stroke="#619CFF"/><path d="M522.4 116.80L525.63 122.40L519.17 122.40Z" stroke="#619CFF"/><path d="M521.0 131.40L524.23 137.00L517.77 137.00Z" stroke="#619CFF"/><path d="M529.7 120.40L532.93 126.00L526.47 126.00Z" stroke="#619CFF"/><path d="M523.9 103.70L527.13 109.30L520.67 109.30Z" stroke="#619CFF"/><path d="M547.2 108.80L550.43 114.40L543.97 114.40Z" stroke="#619CFF"/><path d="M547.2 127.00L550.43 132.60L543.97 132.60Z" stroke="#619CFF"/><path d="M514.2 82.80L517.43 88.40L510.97 88.40Z" stroke="#619CFF"/><path d="M510.3 93.70L513.53 99.30L507.07 99.30Z" stroke="#619CFF"/><path d="M533.7 98.10L536.93 103.70L530.47 103.70Z" stroke="#619CFF"/><path d="M559.2 87.20L562.43 92.80L555.97 92.80Z" stroke="#619CFF"/><path d="M559.2 118.60L562.43 124.20L555.97 124.20Z" stroke="#619CFF"/><path d="M567.2 110.50L570.43 116.10L563.97 116.10Z" stroke="#619CFF"/><path d="M567.2 115.60L570.43 121.20L563.97 121.20Z" stroke="#619CFF"/><path d="M575.3 90.10L578.53 95.70L572.07 95.70Z" stroke="#619CFF"/><path d="M576.7 109.70L579.93 115.30L573.47 115.30Z" stroke="#619CFF"/><path d="M635.1 19.70L638.33 25.30L631.87 25.30Z" stroke="#619CFF"/><path d="M594.2 32.10L597.43 37.70L590.97 37.70Z" stroke="#619CFF"/><path d="M578.8 65.00L582.03 70.60L575.57 70.60Z" stroke="#619CFF"/><path d="M592.3 99.30L595.53 104.90L589.07 104.90Z" stroke="#619CFF"/><path d="M631.3 84.00L634.53 89.60L628.07 89.60Z" stroke="#619CFF"/><path d="M588.2 116.30L591.43 121.90L584.97 121.90Z" stroke="#619CFF"/><path d="M623.4 154.20L626.63 159.80L620.17 159.80Z" stroke="#619CFF"/><path d="M405.2 168.40L408.43 174.00L401.97 174.00Z" stroke="#619CFF"/><path d="M405.2 177.90L408.43 183.50L401.97 183.50Z" stroke="#619CFF"/><path d="M401.2 176.40L404.43 182.00L397.97 182.00Z" stroke="#619CFF"/><path d="M401.2 174.40L404.43 180.00L397.97 180.00Z" stroke="#619CFF"/><path d="M416.9 175.70L420.13 181.30L413.67 181.30Z" stroke="#619CFF"/><path d="M420.5 165.40L423.73 171.00L417.27 171.00Z" stroke="#619CFF"/><path d="M422.7 172.00L425.93 177.60L419.47 177.60Z" stroke="#619CFF"/><path d="M422.7 180.00L425.93 185.60L419.47 185.60Z" stroke="#619CFF"/><path d="M422.4 181.50L425.63 187.10L419.17 187.10Z" stroke="#619CFF"/><path d="M424.9 164.70L428.13 170.30L421.67 170.30Z" stroke="#619CFF"/><path d="M425.7 169.10L428.93 174.70L422.47 174.70Z" stroke="#619CFF"/><path d="M427.1 174.20L430.33 179.80L423.87 179.80Z" stroke="#619CFF"/><path d="M428.6 164.00L431.83 169.60L425.37 169.60Z" stroke="#619CFF"/><path d="M432.6 163.30L435.83 168.90L429.37 168.90Z" stroke="#619CFF"/><path d="M432.6 170.60L435.83 176.20L429.37 176.20Z" stroke="#619CFF"/><path d="M434.4 181.50L437.63 187.10L431.17 187.10Z" stroke="#619CFF"/><path d="M438.8 161.80L442.03 167.40L435.57 167.40Z" stroke="#619CFF"/><path d="M441.7 169.10L444.93 174.70L438.47 174.70Z" stroke="#619CFF"/><path d="M443.2 156.00L446.43 161.60L439.97 161.60Z" stroke="#619CFF"/><path d="M443.9 161.80L447.13 167.40L440.67 167.40Z" stroke="#619CFF"/></g>
<text transform="translate(368.16,199.64) scale(0.9350,1)" font-size="8.05" fill="#4D4D4D" stroke="#4D4D4D" stroke-width="0.22">0</text>
<text transform="translate(364.00,156.01) scale(0.9350,1)" font-size="8.05" fill="#4D4D4D" stroke="#4D4D4D" stroke-width="0.22">25</text>
<text transform="translate(363.97,112.39) scale(0.9350,1)" font-size="8.05" fill="#4D4D4D" stroke="#4D4D4D" stroke-width="0.22">50</text>
<text transform="translate(364.00,68.77) scale(0.9350,1)" font-size="8.05" fill="#4D4D4D" stroke="#4D4D4D" stroke-width="0.22">75</text>
<text transform="translate(359.79,25.14) scale(0.9350,1)" font-size="8.05" fill="#4D4D4D" stroke="#4D4D4D" stroke-width="0.22">100</text>
<text transform="translate(395.42,213.89) scale(0.9350,1)" font-size="8.05" fill="#4D4D4D" stroke="#4D4D4D" stroke-width="0.22">20</text>
<text transform="translate(463.54,213.89) scale(0.9350,1)" font-size="8.05" fill="#4D4D4D" stroke="#4D4D4D" stroke-width="0.22">25</text>
<text transform="translate(531.67,213.89) scale(0.9350,1)" font-size="8.05" fill="#4D4D4D" stroke="#4D4D4D" stroke-width="0.22">30</text>
<text transform="translate(599.78,213.89) scale(0.9350,1)" font-size="8.05" fill="#4D4D4D" stroke="#4D4D4D" stroke-width="0.22">35</text>
<text transform="translate(459.69,224.94) scale(0.9150,1)" font-size="10.5" fill="#000" stroke="#000" stroke-width="0.22">Gestational Age (weeks)</text>
<text transform="translate(355.05,182.49) rotate(-90) scale(0.9930,1)" font-size="9.55" fill="#000" stroke="#000" stroke-width="0.22">Volume of SR reconstructions (mL)</text>
<text transform="translate(658.07,93.94) scale(0.9120,1)" font-size="10.4" fill="#000" stroke="#000" stroke-width="0.22">Rater</text>
<g fill="none" stroke-width="0.8"><circle cx="663.6" cy="105.2" r="2.40" stroke="#F8766D"/></g>
<text transform="translate(673.84,108.09) scale(0.9600,1)" font-size="7.8" fill="#000" stroke="#000" stroke-width="0.22">R1</text>
<g fill="none" stroke-width="0.8"><path d="M663.6 113.31L666.58 116.2L663.6 119.17L660.72 116.2Z" stroke="#2ECC48"/></g>
<text transform="translate(673.84,119.09) scale(0.9600,1)" font-size="7.8" fill="#000" stroke="#000" stroke-width="0.22">R2</text>
<g fill="none" stroke-width="0.8"><path d="M663.6 123.74L666.88 129.34L660.42 129.34Z" stroke="#619CFF"/></g>
<text transform="translate(673.84,130.09) scale(0.9600,1)" font-size="7.8" fill="#000" stroke="#000" stroke-width="0.22">R3</text>
<text transform="translate(236.03,238.65) scale(0.9663,1)" font-size="8.0" fill="#000" stroke="#000" stroke-width="0.22">Combined Fetal Lung Volume by Gestational Age (Spina Bifida)</text>
<g fill="none" stroke-width="0.8"><circle cx="41.4" cy="415.9" r="2.40" stroke="#F8766D"/><circle cx="57.4" cy="408.6" r="2.40" stroke="#F8766D"/><circle cx="62.4" cy="405.0" r="2.40" stroke="#F8766D"/><circle cx="76.4" cy="407.9" r="2.40" stroke="#F8766D"/><circle cx="83.3" cy="395.5" r="2.40" stroke="#F8766D"/><circle cx="84.7" cy="402.8" r="2.40" stroke="#F8766D"/><circle cx="83.3" cy="410.1" r="2.40" stroke="#F8766D"/><circle cx="95.0" cy="395.2" r="2.40" stroke="#F8766D"/><circle cx="95.0" cy="405.7" r="2.40" stroke="#F8766D"/><circle cx="108.8" cy="389.6" r="2.40" stroke="#F8766D"/><circle cx="109.6" cy="396.2" r="2.40" stroke="#F8766D"/><circle cx="111.8" cy="398.4" r="2.40" stroke="#F8766D"/><circle cx="113.2" cy="401.2" r="2.40" stroke="#F8766D"/><circle cx="116.1" cy="385.3" r="2.40" stroke="#F8766D"/><circle cx="125.6" cy="400.6" r="2.40" stroke="#F8766D"/><circle cx="141.6" cy="390.5" r="2.40" stroke="#F8766D"/><circle cx="151.0" cy="372.3" r="2.40" stroke="#F8766D"/><circle cx="155.8" cy="381.8" r="2.40" stroke="#F8766D"/><circle cx="155.8" cy="385.4" r="2.40" stroke="#F8766D"/><circle cx="158.0" cy="375.9" r="2.40" stroke="#F8766D"/><circle cx="160.1" cy="373.0" r="2.40" stroke="#F8766D"/><circle cx="165.0" cy="379.6" r="2.40" stroke="#F8766D"/><circle cx="167.4" cy="366.4" r="2.40" stroke="#F8766D"/><circle cx="167.4" cy="389.1" r="2.40" stroke="#F8766D"/><circle cx="167.4" cy="393.4" r="2.40" stroke="#F8766D"/><circle cx="171.8" cy="386.1" r="2.40" stroke="#F8766D"/><circle cx="171.8" cy="391.2" r="2.40" stroke="#F8766D"/><circle cx="176.9" cy="363.5" r="2.40" stroke="#F8766D"/><circle cx="181.3" cy="373.7" r="2.40" stroke="#F8766D"/><circle cx="190.8" cy="355.5" r="2.40" stroke="#F8766D"/><circle cx="193.0" cy="358.4" r="2.40" stroke="#F8766D"/><circle cx="193.0" cy="365.7" r="2.40" stroke="#F8766D"/><circle cx="200.0" cy="346.4" r="2.40" stroke="#F8766D"/><circle cx="204.7" cy="321.2" r="2.40" stroke="#F8766D"/><circle cx="216.4" cy="347.4" r="2.40" stroke="#F8766D"/><circle cx="288.8" cy="283.6" r="2.40" stroke="#F8766D"/><circle cx="158.1" cy="401.5" r="2.40" stroke="#F8766D"/><path d="M41.4 414.47L44.33 417.4L41.4 420.33L38.47 417.4Z" stroke="#2ECC48"/><path d="M57.4 405.67L60.33 408.6L57.4 411.53L54.47 408.6Z" stroke="#2ECC48"/><path d="M57.4 407.87L60.33 410.8L57.4 413.73L54.47 410.8Z" stroke="#2ECC48"/><path d="M62.4 389.37L65.33 392.3L62.4 395.23L59.47 392.3Z" stroke="#2ECC48"/><path d="M62.4 406.37L65.33 409.3L62.4 412.23L59.47 409.3Z" stroke="#2ECC48"/><path d="M76.4 406.37L79.33 409.3L76.4 412.23L73.47 409.3Z" stroke="#2ECC48"/><path d="M83.3 394.77L86.23 397.7L83.3 400.63L80.37 397.7Z" stroke="#2ECC48"/><path d="M84.7 399.87L87.63 402.8L84.7 405.73L81.77 402.8Z" stroke="#2ECC48"/><path d="M83.3 407.17L86.23 410.1L83.3 413.03L80.37 410.1Z" stroke="#2ECC48"/><path d="M95.0 402.77L97.93 405.7L95.0 408.63L92.07 405.7Z" stroke="#2ECC48"/><path d="M106.6 372.87L109.53 375.8L106.6 378.73L103.67 375.8Z" stroke="#2ECC48"/><path d="M108.8 381.57L111.73 384.5L108.8 387.43L105.87 384.5Z" stroke="#2ECC48"/><path d="M108.8 391.07L111.73 394.0L108.8 396.93L105.87 394.0Z" stroke="#2ECC48"/><path d="M111.8 395.47L114.73 398.4L111.8 401.33L108.87 398.4Z" stroke="#2ECC48"/><path d="M108.8 403.47L111.73 406.4L108.8 409.33L105.87 406.4Z" stroke="#2ECC48"/><path d="M113.2 401.27L116.13 404.2L113.2 407.13L110.27 404.2Z" stroke="#2ECC48"/><path d="M116.1 382.37L119.03 385.3L116.1 388.23L113.17 385.3Z" stroke="#2ECC48"/><path d="M125.6 387.47L128.53 390.4L125.6 393.33L122.67 390.4Z" stroke="#2ECC48"/><path d="M125.6 393.27L128.53 396.2L125.6 399.13L122.67 396.2Z" stroke="#2ECC48"/><path d="M141.6 387.57L144.53 390.5L141.6 393.43L138.67 390.5Z" stroke="#2ECC48"/><path d="M151.0 378.07L153.93 381.0L151.0 383.93L148.07 381.0Z" stroke="#2ECC48"/><path d="M155.8 378.87L158.73 381.8L155.8 384.73L152.87 381.8Z" stroke="#2ECC48"/><path d="M155.8 382.47L158.73 385.4L155.8 388.33L152.87 385.4Z" stroke="#2ECC48"/><path d="M155.8 386.87L158.73 389.8L155.8 392.73L152.87 389.8Z" stroke="#2ECC48"/><path d="M158.0 372.97L160.93 375.9L158.0 378.83L155.07 375.9Z" stroke="#2ECC48"/><path d="M158.0 394.87L160.93 397.8L158.0 400.73L155.07 397.8Z" stroke="#2ECC48"/><path d="M160.1 385.37L163.03 388.3L160.1 391.23L157.17 388.3Z" stroke="#2ECC48"/><path d="M165.0 376.67L167.93 379.6L165.0 382.53L162.07 379.6Z" stroke="#2ECC48"/><path d="M167.4 377.37L170.33 380.3L167.4 383.23L164.47 380.3Z" stroke="#2ECC48"/><path d="M167.4 367.17L170.33 370.1L167.4 373.03L164.47 370.1Z" stroke="#2ECC48"/><path d="M167.4 381.77L170.33 384.7L167.4 387.63L164.47 384.7Z" stroke="#2ECC48"/><path d="M167.4 386.17L170.33 389.1L167.4 392.03L164.47 389.1Z" stroke="#2ECC48"/><path d="M171.8 377.37L174.73 380.3L171.8 383.23L168.87 380.3Z" stroke="#2ECC48"/><path d="M176.9 363.47L179.83 366.4L176.9 369.33L173.97 366.4Z" stroke="#2ECC48"/><path d="M181.3 370.77L184.23 373.7L181.3 376.63L178.37 373.7Z" stroke="#2ECC48"/><path d="M193.0 355.47L195.93 358.4L193.0 361.33L190.07 358.4Z" stroke="#2ECC48"/><path d="M190.8 359.87L193.73 362.8L190.8 365.73L187.87 362.8Z" stroke="#2ECC48"/><path d="M193.0 368.57L195.93 371.5L193.0 374.43L190.07 371.5Z" stroke="#2ECC48"/><path d="M200.0 364.27L202.93 367.2L200.0 370.13L197.07 367.2Z" stroke="#2ECC48"/><path d="M204.7 318.27L207.63 321.2L204.7 324.13L201.77 321.2Z" stroke="#2ECC48"/><path d="M216.4 331.37L219.33 334.3L216.4 337.23L213.47 334.3Z" stroke="#2ECC48"/><path d="M288.8 276.27L291.73 279.2L288.8 282.13L285.87 279.2Z" stroke="#2ECC48"/><path d="M41.4 410.20L44.63 415.80L38.17 415.80Z" stroke="#619CFF"/><path d="M57.4 401.40L60.63 407.00L54.17 407.00Z" stroke="#619CFF"/><path d="M57.4 408.00L60.63 413.60L54.17 413.60Z" stroke="#619CFF"/><path d="M62.4 400.70L65.63 406.30L59.17 406.30Z" stroke="#619CFF"/><path d="M76.4 402.90L79.63 408.50L73.17 408.50Z" stroke="#619CFF"/><path d="M85.5 397.10L88.73 402.70L82.27 402.70Z" stroke="#619CFF"/><path d="M83.3 407.30L86.53 412.90L80.07 412.90Z" stroke="#619CFF"/><path d="M95.0 386.80L98.23 392.40L91.77 392.40Z" stroke="#619CFF"/><path d="M95.0 402.90L98.23 408.50L91.77 408.50Z" stroke="#619CFF"/><path d="M106.6 367.60L109.83 373.20L103.37 373.20Z" stroke="#619CFF"/><path d="M108.8 381.70L112.03 387.30L105.57 387.30Z" stroke="#619CFF"/><path d="M109.6 393.40L112.83 399.00L106.37 399.00Z" stroke="#619CFF"/><path d="M108.8 403.60L112.03 409.20L105.57 409.20Z" stroke="#619CFF"/><path d="M116.1 379.50L119.33 385.10L112.87 385.10Z" stroke="#619CFF"/><path d="M125.6 387.60L128.83 393.20L122.37 393.20Z" stroke="#619CFF"/><path d="M125.6 396.30L128.83 401.90L122.37 401.90Z" stroke="#619CFF"/><path d="M141.6 387.70L144.83 393.30L138.37 393.30Z" stroke="#619CFF"/><path d="M141.6 389.90L144.83 395.50L138.37 395.50Z" stroke="#619CFF"/><path d="M151.0 383.30L154.23 388.90L147.77 388.90Z" stroke="#619CFF"/><path d="M155.8 379.00L159.03 384.60L152.57 384.60Z" stroke="#619CFF"/><path d="M155.8 382.60L159.03 388.20L152.57 388.20Z" stroke="#619CFF"/><path d="M158.0 366.50L161.23 372.10L154.77 372.10Z" stroke="#619CFF"/><path d="M165.0 373.10L168.23 378.70L161.77 378.70Z" stroke="#619CFF"/><path d="M167.4 377.50L170.63 383.10L164.17 383.10Z" stroke="#619CFF"/><path d="M167.4 353.40L170.63 359.00L164.17 359.00Z" stroke="#619CFF"/><path d="M167.4 381.90L170.63 387.50L164.17 387.50Z" stroke="#619CFF"/><path d="M171.8 374.60L175.03 380.20L168.57 380.20Z" stroke="#619CFF"/><path d="M171.8 388.40L175.03 394.00L168.57 394.00Z" stroke="#619CFF"/><path d="M176.9 357.10L180.13 362.70L173.67 362.70Z" stroke="#619CFF"/><path d="M181.3 368.00L184.53 373.60L178.07 373.60Z" stroke="#619CFF"/><path d="M190.8 340.30L194.03 345.90L187.57 345.90Z" stroke="#619CFF"/><path d="M193.0 355.60L196.23 361.20L189.77 361.20Z" stroke="#619CFF"/><path d="M193.0 368.70L196.23 374.30L189.77 374.30Z" stroke="#619CFF"/><path d="M200.0 356.30L203.23 361.90L196.77 361.90Z" stroke="#619CFF"/><path d="M204.7 318.40L207.93 324.00L201.47 324.00Z" stroke="#619CFF"/><path d="M216.4 323.50L219.63 329.10L213.17 329.10Z" stroke="#619CFF"/><path d="M288.8 282.20L292.03 287.80L285.57 287.80Z" stroke="#619CFF"/><path d="M158.1 401.40L161.33 407.00L154.87 407.00Z" stroke="#619CFF"/></g>
<text transform="translate(21.69,431.03) scale(0.9350,1)" font-size="8.05" fill="#4D4D4D" stroke="#4D4D4D" stroke-width="0.22">0</text>
<text transform="translate(17.53,387.41) scale(0.9350,1)" font-size="8.05" fill="#4D4D4D" stroke="#4D4D4D" stroke-width="0.22">25</text>
<text transform="translate(17.50,343.78) scale(0.9350,1)" font-size="8.05" fill="#4D4D4D" stroke="#4D4D4D" stroke-width="0.22">50</text>
<text transform="translate(17.53,300.16) scale(0.9350,1)" font-size="8.05" fill="#4D4D4D" stroke="#4D4D4D" stroke-width="0.22">75</text>
<text transform="translate(13.32,256.53) scale(0.9350,1)" font-size="8.05" fill="#4D4D4D" stroke="#4D4D4D" stroke-width="0.22">100</text>
<text transform="translate(51.32,445.28) scale(0.9350,1)" font-size="8.05" fill="#4D4D4D" stroke="#4D4D4D" stroke-width="0.22">20</text>
<text transform="translate(132.94,445.28) scale(0.9350,1)" font-size="8.05" fill="#4D4D4D" stroke="#4D4D4D" stroke-width="0.22">25</text>
<text transform="translate(214.57,445.28) scale(0.9350,1)" font-size="8.05" fill="#4D4D4D" stroke="#4D4D4D" stroke-width="0.22">30</text>
<text transform="translate(296.18,445.28) scale(0.9350,1)" font-size="8.05" fill="#4D4D4D" stroke="#4D4D4D" stroke-width="0.22">35</text>
<text transform="translate(113.24,456.33) scale(0.9150,1)" font-size="10.5" fill="#000" stroke="#000" stroke-width="0.22">Gestational Age (weeks)</text>
<text transform="translate(8.60,403.60) rotate(-90) scale(0.9930,1)" font-size="9.55" fill="#000" stroke="#000" stroke-width="0.22">Volume of ssFSE Scans, (mL)</text>
<text transform="translate(311.62,325.33) scale(0.9120,1)" font-size="10.4" fill="#000" stroke="#000" stroke-width="0.22">Rater</text>
<g fill="none" stroke-width="0.8"><circle cx="317.2" cy="336.6" r="2.40" stroke="#F8766D"/></g>
<text transform="translate(327.39,339.48) scale(0.9600,1)" font-size="7.8" fill="#000" stroke="#000" stroke-width="0.22">R1</text>
<g fill="none" stroke-width="0.8"><path d="M317.2 344.70L320.13 347.6L317.2 350.56L314.27 347.6Z" stroke="#2ECC48"/></g>
<text transform="translate(327.39,350.48) scale(0.9600,1)" font-size="7.8" fill="#000" stroke="#000" stroke-width="0.22">R2</text>
<g fill="none" stroke-width="0.8"><path d="M317.2 355.13L320.43 360.73L313.97 360.73Z" stroke="#619CFF"/></g>
<text transform="translate(327.39,361.48) scale(0.9600,1)" font-size="7.8" fill="#000" stroke="#000" stroke-width="0.22">R3</text>
<g fill="none" stroke-width="0.8"><circle cx="387.8" cy="415.2" r="2.40" stroke="#F8766D"/><circle cx="404.0" cy="410.8" r="2.40" stroke="#F8766D"/><circle cx="408.8" cy="405.0" r="2.40" stroke="#F8766D"/><circle cx="422.7" cy="410.8" r="2.40" stroke="#F8766D"/><circle cx="432.2" cy="399.1" r="2.40" stroke="#F8766D"/><circle cx="430.0" cy="405.0" r="2.40" stroke="#F8766D"/><circle cx="430.0" cy="407.9" r="2.40" stroke="#F8766D"/><circle cx="430.0" cy="413.7" r="2.40" stroke="#F8766D"/><circle cx="441.4" cy="401.3" r="2.40" stroke="#F8766D"/><circle cx="441.4" cy="405.0" r="2.40" stroke="#F8766D"/><circle cx="455.6" cy="396.9" r="2.40" stroke="#F8766D"/><circle cx="462.9" cy="390.4" r="2.40" stroke="#F8766D"/><circle cx="458.5" cy="402.0" r="2.40" stroke="#F8766D"/><circle cx="460.7" cy="400.0" r="2.40" stroke="#F8766D"/><circle cx="471.6" cy="390.4" r="2.40" stroke="#F8766D"/><circle cx="471.6" cy="400.6" r="2.40" stroke="#F8766D"/><circle cx="487.9" cy="393.4" r="2.40" stroke="#F8766D"/><circle cx="487.9" cy="396.4" r="2.40" stroke="#F8766D"/><circle cx="497.4" cy="383.2" r="2.40" stroke="#F8766D"/><circle cx="501.8" cy="381.8" r="2.40" stroke="#F8766D"/><circle cx="506.9" cy="374.5" r="2.40" stroke="#F8766D"/><circle cx="517.8" cy="383.9" r="2.40" stroke="#F8766D"/><circle cx="518.6" cy="389.8" r="2.40" stroke="#F8766D"/><circle cx="513.9" cy="360.6" r="2.40" stroke="#F8766D"/><circle cx="522.9" cy="370.8" r="2.40" stroke="#F8766D"/><circle cx="522.9" cy="373.7" r="2.40" stroke="#F8766D"/><circle cx="528.0" cy="374.5" r="2.40" stroke="#F8766D"/><circle cx="539.0" cy="354.0" r="2.40" stroke="#F8766D"/><circle cx="536.8" cy="357.7" r="2.40" stroke="#F8766D"/><circle cx="539.7" cy="373.0" r="2.40" stroke="#F8766D"/><circle cx="551.4" cy="336.5" r="2.40" stroke="#F8766D"/><circle cx="563.1" cy="339.4" r="2.40" stroke="#F8766D"/><circle cx="635.3" cy="271.1" r="2.40" stroke="#F8766D"/><circle cx="504.7" cy="401.0" r="2.40" stroke="#F8766D"/><path d="M387.8 413.27L390.73 416.2L387.8 419.13L384.87 416.2Z" stroke="#2ECC48"/><path d="M404.0 407.87L406.93 410.8L404.0 413.73L401.07 410.8Z" stroke="#2ECC48"/><path d="M408.8 402.07L411.73 405.0L408.8 407.93L405.87 405.0Z" stroke="#2ECC48"/><path d="M422.7 407.87L425.63 410.8L422.7 413.73L419.77 410.8Z" stroke="#2ECC48"/><path d="M432.2 396.17L435.13 399.1L432.2 402.03L429.27 399.1Z" stroke="#2ECC48"/><path d="M430.0 402.07L432.93 405.0L430.0 407.93L427.07 405.0Z" stroke="#2ECC48"/><path d="M430.0 410.77L432.93 413.7L430.0 416.63L427.07 413.7Z" stroke="#2ECC48"/><path d="M441.4 388.87L444.33 391.8L441.4 394.73L438.47 391.8Z" stroke="#2ECC48"/><path d="M455.6 385.97L458.53 388.9L455.6 391.83L452.67 388.9Z" stroke="#2ECC48"/><path d="M455.6 393.97L458.53 396.9L455.6 399.83L452.67 396.9Z" stroke="#2ECC48"/><path d="M457.8 390.37L460.73 393.3L457.8 396.23L454.87 393.3Z" stroke="#2ECC48"/><path d="M462.9 387.47L465.83 390.4L462.9 393.33L459.97 390.4Z" stroke="#2ECC48"/><path d="M471.6 391.77L474.53 394.7L471.6 397.63L468.67 394.7Z" stroke="#2ECC48"/><path d="M471.6 394.57L474.53 397.5L471.6 400.43L468.67 397.5Z" stroke="#2ECC48"/><path d="M487.9 386.87L490.83 389.8L487.9 392.73L484.97 389.8Z" stroke="#2ECC48"/><path d="M497.4 380.27L500.33 383.2L497.4 386.13L494.47 383.2Z" stroke="#2ECC48"/><path d="M501.8 378.87L504.73 381.8L501.8 384.73L498.87 381.8Z" stroke="#2ECC48"/><path d="M502.2 381.77L505.13 384.7L502.2 387.63L499.27 384.7Z" stroke="#2ECC48"/><path d="M506.9 374.47L509.83 377.4L506.9 380.33L503.97 377.4Z" stroke="#2ECC48"/><path d="M512.0 371.57L514.93 374.5L512.0 377.43L509.07 374.5Z" stroke="#2ECC48"/><path d="M514.2 377.37L517.13 380.3L514.2 383.23L511.27 380.3Z" stroke="#2ECC48"/><path d="M513.4 383.17L516.33 386.1L513.4 389.03L510.47 386.1Z" stroke="#2ECC48"/><path d="M518.6 384.67L521.53 387.6L518.6 390.53L515.67 387.6Z" stroke="#2ECC48"/><path d="M513.9 357.67L516.83 360.6L513.9 363.53L510.97 360.6Z" stroke="#2ECC48"/><path d="M528.0 371.57L530.93 374.5L528.0 377.43L525.07 374.5Z" stroke="#2ECC48"/><path d="M536.8 348.17L539.73 351.1L536.8 354.03L533.87 351.1Z" stroke="#2ECC48"/><path d="M539.0 351.07L541.93 354.0L539.0 356.93L536.07 354.0Z" stroke="#2ECC48"/><path d="M546.3 352.57L549.23 355.5L546.3 358.43L543.37 355.5Z" stroke="#2ECC48"/><path d="M551.4 322.17L554.33 325.1L551.4 328.03L548.47 325.1Z" stroke="#2ECC48"/><path d="M563.1 332.07L566.03 335.0L563.1 337.93L560.17 335.0Z" stroke="#2ECC48"/><path d="M635.3 271.67L638.23 274.6L635.3 277.53L632.37 274.6Z" stroke="#2ECC48"/><path d="M387.8 409.50L391.03 415.10L384.57 415.10Z" stroke="#619CFF"/><path d="M404.0 406.50L407.23 412.10L400.77 412.10Z" stroke="#619CFF"/><path d="M408.8 400.00L412.03 405.60L405.57 405.60Z" stroke="#619CFF"/><path d="M422.7 405.80L425.93 411.40L419.47 411.40Z" stroke="#619CFF"/><path d="M432.2 394.90L435.43 400.50L428.97 400.50Z" stroke="#619CFF"/><path d="M430.0 400.00L433.23 405.60L426.77 405.60Z" stroke="#619CFF"/><path d="M430.0 408.70L433.23 414.30L426.77 414.30Z" stroke="#619CFF"/><path d="M441.4 394.90L444.63 400.50L438.17 400.50Z" stroke="#619CFF"/><path d="M441.4 402.20L444.63 407.80L438.17 407.80Z" stroke="#619CFF"/><path d="M455.6 386.10L458.83 391.70L452.37 391.70Z" stroke="#619CFF"/><path d="M455.6 394.10L458.83 399.70L452.37 399.70Z" stroke="#619CFF"/><path d="M458.5 403.60L461.73 409.20L455.27 409.20Z" stroke="#619CFF"/><path d="M471.6 391.90L474.83 397.50L468.37 397.50Z" stroke="#619CFF"/><path d="M487.9 387.00L491.13 392.60L484.67 392.60Z" stroke="#619CFF"/><path d="M487.9 390.60L491.13 396.20L484.67 396.20Z" stroke="#619CFF"/><path d="M497.4 380.40L500.63 386.00L494.17 386.00Z" stroke="#619CFF"/><path d="M501.8 379.00L505.03 384.60L498.57 384.60Z" stroke="#619CFF"/><path d="M506.9 374.60L510.13 380.20L503.67 380.20Z" stroke="#619CFF"/><path d="M513.4 383.30L516.63 388.90L510.17 388.90Z" stroke="#619CFF"/><path d="M513.4 388.40L516.63 394.00L510.17 394.00Z" stroke="#619CFF"/><path d="M518.6 384.80L521.83 390.40L515.37 390.40Z" stroke="#619CFF"/><path d="M504.7 395.70L507.93 401.30L501.47 401.30Z" stroke="#619CFF"/><path d="M513.9 357.80L517.13 363.40L510.67 363.40Z" stroke="#619CFF"/><path d="M522.9 368.00L526.13 373.60L519.67 373.60Z" stroke="#619CFF"/><path d="M528.0 373.10L531.23 378.70L524.77 378.70Z" stroke="#619CFF"/><path d="M539.0 351.20L542.23 356.80L535.77 356.80Z" stroke="#619CFF"/><path d="M536.8 354.90L540.03 360.50L533.57 360.50Z" stroke="#619CFF"/><path d="M539.7 361.40L542.93 367.00L536.47 367.00Z" stroke="#619CFF"/><path d="M546.3 362.90L549.53 368.50L543.07 368.50Z" stroke="#619CFF"/><path d="M551.4 333.70L554.63 339.30L548.17 339.30Z" stroke="#619CFF"/><path d="M563.1 329.30L566.33 334.90L559.87 334.90Z" stroke="#619CFF"/><path d="M635.3 263.80L638.53 269.40L632.07 269.40Z" stroke="#619CFF"/></g>
<text transform="translate(368.16,431.03) scale(0.9350,1)" font-size="8.05" fill="#4D4D4D" stroke="#4D4D4D" stroke-width="0.22">0</text>
<text transform="translate(364.00,387.41) scale(0.9350,1)" font-size="8.05" fill="#4D4D4D" stroke="#4D4D4D" stroke-width="0.22">25</text>
<text transform="translate(363.97,343.78) scale(0.9350,1)" font-size="8.05" fill="#4D4D4D" stroke="#4D4D4D" stroke-width="0.22">50</text>
<text transform="translate(364.00,300.16) scale(0.9350,1)" font-size="8.05" fill="#4D4D4D" stroke="#4D4D4D" stroke-width="0.22">75</text>
<text transform="translate(359.79,256.53) scale(0.9350,1)" font-size="8.05" fill="#4D4D4D" stroke="#4D4D4D" stroke-width="0.22">100</text>
<text transform="translate(397.77,445.28) scale(0.9350,1)" font-size="8.05" fill="#4D4D4D" stroke="#4D4D4D" stroke-width="0.22">20</text>
<text transform="translate(479.39,445.28) scale(0.9350,1)" font-size="8.05" fill="#4D4D4D" stroke="#4D4D4D" stroke-width="0.22">25</text>
<text transform="translate(561.02,445.28) scale(0.9350,1)" font-size="8.05" fill="#4D4D4D" stroke="#4D4D4D" stroke-width="0.22">30</text>
<text transform="translate(642.63,445.28) scale(0.9350,1)" font-size="8.05" fill="#4D4D4D" stroke="#4D4D4D" stroke-width="0.22">35</text>
<text transform="translate(459.69,456.33) scale(0.9150,1)" font-size="10.5" fill="#000" stroke="#000" stroke-width="0.22">Gestational Age (weeks)</text>
<text transform="translate(355.05,417.05) rotate(-90) scale(0.9930,1)" font-size="9.55" fill="#000" stroke="#000" stroke-width="0.22">Volume of SR Reconstructions, (mL)</text>
<text transform="translate(658.07,325.33) scale(0.9120,1)" font-size="10.4" fill="#000" stroke="#000" stroke-width="0.22">Rater</text>
<g fill="none" stroke-width="0.8"><circle cx="663.6" cy="336.6" r="2.40" stroke="#F8766D"/></g>
<text transform="translate(673.84,339.48) scale(0.9600,1)" font-size="7.8" fill="#000" stroke="#000" stroke-width="0.22">R1</text>
<g fill="none" stroke-width="0.8"><path d="M663.6 344.70L666.58 347.6L663.6 350.56L660.72 347.6Z" stroke="#2ECC48"/></g>
<text transform="translate(673.84,350.48) scale(0.9600,1)" font-size="7.8" fill="#000" stroke="#000" stroke-width="0.22">R2</text>
<g fill="none" stroke-width="0.8"><path d="M663.6 355.13L666.88 360.73L660.42 360.73Z" stroke="#619CFF"/></g>
<text transform="translate(673.84,361.48) scale(0.9600,1)" font-size="7.8" fill="#000" stroke="#000" stroke-width="0.22">R3</text>
<text transform="translate(216.91,469.55) scale(0.9663,1)" font-size="8.0" fill="#000" stroke="#000" stroke-width="0.22">Combined Fetal Lung Volume by Gestational Age (Neurological Pathology)</text>
<g fill="none" stroke-width="0.8"><circle cx="41.4" cy="637.2" r="2.40" stroke="#F8766D"/><circle cx="41.4" cy="641.5" r="2.40" stroke="#F8766D"/><circle cx="62.1" cy="624.7" r="2.40" stroke="#F8766D"/><circle cx="62.1" cy="633.5" r="2.40" stroke="#F8766D"/><circle cx="64.3" cy="635.5" r="2.40" stroke="#F8766D"/><circle cx="70.9" cy="624.0" r="2.40" stroke="#F8766D"/><circle cx="81.1" cy="625.5" r="2.40" stroke="#F8766D"/><circle cx="81.1" cy="631.3" r="2.40" stroke="#F8766D"/><circle cx="89.1" cy="630.6" r="2.40" stroke="#F8766D"/><circle cx="91.3" cy="637.9" r="2.40" stroke="#F8766D"/><circle cx="91.3" cy="602.8" r="2.40" stroke="#F8766D"/><circle cx="91.3" cy="618.9" r="2.40" stroke="#F8766D"/><circle cx="112.5" cy="623.3" r="2.40" stroke="#F8766D"/><circle cx="120.9" cy="586.6" r="2.40" stroke="#F8766D"/><circle cx="129.0" cy="611.3" r="2.40" stroke="#F8766D"/><circle cx="148.2" cy="584.2" r="2.40" stroke="#F8766D"/><circle cx="156.7" cy="580.6" r="2.40" stroke="#F8766D"/><circle cx="150.1" cy="597.4" r="2.40" stroke="#F8766D"/><circle cx="148.2" cy="606.1" r="2.40" stroke="#F8766D"/><circle cx="164.7" cy="565.3" r="2.40" stroke="#F8766D"/><circle cx="166.9" cy="575.5" r="2.40" stroke="#F8766D"/><circle cx="166.9" cy="594.5" r="2.40" stroke="#F8766D"/><circle cx="194.4" cy="566.0" r="2.40" stroke="#F8766D"/><circle cx="194.4" cy="577.7" r="2.40" stroke="#F8766D"/><circle cx="227.7" cy="539.9" r="2.40" stroke="#F8766D"/><circle cx="242.3" cy="561.5" r="2.40" stroke="#F8766D"/><circle cx="225.5" cy="578.6" r="2.40" stroke="#F8766D"/><circle cx="215.3" cy="586.6" r="2.40" stroke="#F8766D"/><circle cx="275.9" cy="619.9" r="2.40" stroke="#F8766D"/><path d="M41.4 632.07L44.33 635.0L41.4 637.93L38.47 635.0Z" stroke="#2ECC48"/><path d="M41.4 642.97L44.33 645.9L41.4 648.83L38.47 645.9Z" stroke="#2ECC48"/><path d="M64.3 623.27L67.23 626.2L64.3 629.13L61.37 626.2Z" stroke="#2ECC48"/><path d="M64.3 637.87L67.23 640.8L64.3 643.73L61.37 640.8Z" stroke="#2ECC48"/><path d="M70.9 624.77L73.83 627.7L70.9 630.63L67.97 627.7Z" stroke="#2ECC48"/><path d="M81.1 622.57L84.03 625.5L81.1 628.43L78.17 625.5Z" stroke="#2ECC48"/><path d="M91.3 603.57L94.23 606.5L91.3 609.43L88.37 606.5Z" stroke="#2ECC48"/><path d="M91.3 615.97L94.23 618.9L91.3 621.83L88.37 618.9Z" stroke="#2ECC48"/><path d="M112.5 624.77L115.43 627.7L112.5 630.63L109.57 627.7Z" stroke="#2ECC48"/><path d="M120.9 586.57L123.83 589.5L120.9 592.43L117.97 589.5Z" stroke="#2ECC48"/><path d="M148.2 582.77L151.13 585.7L148.2 588.63L145.27 585.7Z" stroke="#2ECC48"/><path d="M156.7 577.67L159.63 580.6L156.7 583.53L153.77 580.6Z" stroke="#2ECC48"/><path d="M150.9 601.77L153.83 604.7L150.9 607.63L147.97 604.7Z" stroke="#2ECC48"/><path d="M148.2 608.27L151.13 611.2L148.2 614.13L145.27 611.2Z" stroke="#2ECC48"/><path d="M164.7 563.77L167.63 566.7L164.7 569.63L161.77 566.7Z" stroke="#2ECC48"/><path d="M166.9 591.57L169.83 594.5L166.9 597.43L163.97 594.5Z" stroke="#2ECC48"/><path d="M166.9 595.17L169.83 598.1L166.9 601.03L163.97 598.1Z" stroke="#2ECC48"/><path d="M194.4 567.47L197.33 570.4L194.4 573.33L191.47 570.4Z" stroke="#2ECC48"/><path d="M194.4 583.47L197.33 586.4L194.4 589.33L191.47 586.4Z" stroke="#2ECC48"/><path d="M242.3 535.17L245.23 538.1L242.3 541.03L239.37 538.1Z" stroke="#2ECC48"/><path d="M227.7 549.77L230.63 552.7L227.7 555.63L224.77 552.7Z" stroke="#2ECC48"/><path d="M225.5 570.67L228.43 573.6L225.5 576.53L222.57 573.6Z" stroke="#2ECC48"/><path d="M215.3 589.47L218.23 592.4L215.3 595.33L212.37 592.4Z" stroke="#2ECC48"/><path d="M275.9 613.97L278.83 616.9L275.9 619.83L272.97 616.9Z" stroke="#2ECC48"/><path d="M41.4 628.50L44.63 634.10L38.17 634.10Z" stroke="#619CFF"/><path d="M41.4 637.30L44.63 642.90L38.17 642.90Z" stroke="#619CFF"/><path d="M62.1 619.80L65.33 625.40L58.87 625.40Z" stroke="#619CFF"/><path d="M64.3 623.40L67.53 629.00L61.07 629.00Z" stroke="#619CFF"/><path d="M62.1 627.10L65.33 632.70L58.87 632.70Z" stroke="#619CFF"/><path d="M64.3 634.40L67.53 640.00L61.07 640.00Z" stroke="#619CFF"/><path d="M70.9 624.90L74.13 630.50L67.67 630.50Z" stroke="#619CFF"/><path d="M81.1 619.00L84.33 624.60L77.87 624.60Z" stroke="#619CFF"/><path d="M89.1 623.40L92.33 629.00L85.87 629.00Z" stroke="#619CFF"/><path d="M91.3 635.10L94.53 640.70L88.07 640.70Z" stroke="#619CFF"/><path d="M91.3 596.40L94.53 602.00L88.07 602.00Z" stroke="#619CFF"/><path d="M91.3 607.30L94.53 612.90L88.07 612.90Z" stroke="#619CFF"/><path d="M112.5 622.70L115.73 628.30L109.27 628.30Z" stroke="#619CFF"/><path d="M120.9 583.80L124.13 589.40L117.67 589.40Z" stroke="#619CFF"/><path d="M129.0 607.50L132.23 613.10L125.77 613.10Z" stroke="#619CFF"/><path d="M148.2 570.50L151.43 576.10L144.97 576.10Z" stroke="#619CFF"/><path d="M156.7 587.30L159.93 592.90L153.47 592.90Z" stroke="#619CFF"/><path d="M148.2 600.40L151.43 606.00L144.97 606.00Z" stroke="#619CFF"/><path d="M166.9 546.40L170.13 552.00L163.67 552.00Z" stroke="#619CFF"/><path d="M164.7 563.90L167.93 569.50L161.47 569.50Z" stroke="#619CFF"/><path d="M166.9 589.50L170.13 595.10L163.67 595.10Z" stroke="#619CFF"/><path d="M194.4 586.50L197.63 592.10L191.17 592.10Z" stroke="#619CFF"/><path d="M244.5 491.10L247.73 496.70L241.27 496.70Z" stroke="#619CFF"/><path d="M288.6 490.00L291.83 495.60L285.37 495.60Z" stroke="#619CFF"/><path d="M227.7 542.60L230.93 548.20L224.47 548.20Z" stroke="#619CFF"/><path d="M242.3 544.10L245.53 549.70L239.07 549.70Z" stroke="#619CFF"/><path d="M225.5 557.20L228.73 562.80L222.27 562.80Z" stroke="#619CFF"/><path d="M215.3 592.20L218.53 597.80L212.07 597.80Z" stroke="#619CFF"/><path d="M275.9 617.10L279.13 622.70L272.67 622.70Z" stroke="#619CFF"/></g>
<text transform="translate(21.69,661.80) scale(0.9350,1)" font-size="8.05" fill="#4D4D4D" stroke="#4D4D4D" stroke-width="0.22">0</text>
<text transform="translate(17.53,618.18) scale(0.9350,1)" font-size="8.05" fill="#4D4D4D" stroke="#4D4D4D" stroke-width="0.22">25</text>
<text transform="translate(17.50,574.55) scale(0.9350,1)" font-size="8.05" fill="#4D4D4D" stroke="#4D4D4D" stroke-width="0.22">50</text>
<text transform="translate(17.53,530.93) scale(0.9350,1)" font-size="8.05" fill="#4D4D4D" stroke="#4D4D4D" stroke-width="0.22">75</text>
<text transform="translate(13.32,487.30) scale(0.9350,1)" font-size="8.05" fill="#4D4D4D" stroke="#4D4D4D" stroke-width="0.22">100</text>
<text transform="translate(30.77,676.05) scale(0.9350,1)" font-size="8.05" fill="#4D4D4D" stroke="#4D4D4D" stroke-width="0.22">20</text>
<text transform="translate(104.19,676.05) scale(0.9350,1)" font-size="8.05" fill="#4D4D4D" stroke="#4D4D4D" stroke-width="0.22">25</text>
<text transform="translate(177.62,676.05) scale(0.9350,1)" font-size="8.05" fill="#4D4D4D" stroke="#4D4D4D" stroke-width="0.22">30</text>
<text transform="translate(251.03,676.05) scale(0.9350,1)" font-size="8.05" fill="#4D4D4D" stroke="#4D4D4D" stroke-width="0.22">35</text>
<text transform="translate(113.24,687.10) scale(0.9150,1)" font-size="10.5" fill="#000" stroke="#000" stroke-width="0.22">Gestational Age (weeks)</text>
<text transform="translate(8.60,634.37) rotate(-90) scale(0.9930,1)" font-size="9.55" fill="#000" stroke="#000" stroke-width="0.22">Volume of ssFSE Scans, (mL)</text>
<text transform="translate(311.62,556.10) scale(0.9120,1)" font-size="10.4" fill="#000" stroke="#000" stroke-width="0.22">Rater</text>
<g fill="none" stroke-width="0.8"><circle cx="317.2" cy="567.4" r="2.40" stroke="#F8766D"/></g>
<text transform="translate(327.39,570.25) scale(0.9600,1)" font-size="7.8" fill="#000" stroke="#000" stroke-width="0.22">R1</text>
<g fill="none" stroke-width="0.8"><path d="M317.2 575.47L320.13 578.4L317.2 581.33L314.27 578.4Z" stroke="#2ECC48"/></g>
<text transform="translate(327.39,581.25) scale(0.9600,1)" font-size="7.8" fill="#000" stroke="#000" stroke-width="0.22">R2</text>
<g fill="none" stroke-width="0.8"><path d="M317.2 585.90L320.43 591.50L313.97 591.50Z" stroke="#619CFF"/></g>
<text transform="translate(327.39,592.25) scale(0.9600,1)" font-size="7.8" fill="#000" stroke="#000" stroke-width="0.22">R3</text>
<g fill="none" stroke-width="0.8"><circle cx="387.8" cy="637.2" r="2.40" stroke="#F8766D"/><circle cx="387.8" cy="642.3" r="2.40" stroke="#F8766D"/><circle cx="408.8" cy="634.2" r="2.40" stroke="#F8766D"/><circle cx="411.0" cy="635.7" r="2.40" stroke="#F8766D"/><circle cx="411.0" cy="640.8" r="2.40" stroke="#F8766D"/><circle cx="417.3" cy="632.8" r="2.40" stroke="#F8766D"/><circle cx="427.5" cy="625.5" r="2.40" stroke="#F8766D"/><circle cx="427.5" cy="635.7" r="2.40" stroke="#F8766D"/><circle cx="438.0" cy="604.3" r="2.40" stroke="#F8766D"/><circle cx="438.0" cy="627.2" r="2.40" stroke="#F8766D"/><circle cx="459.2" cy="629.9" r="2.40" stroke="#F8766D"/><circle cx="476.0" cy="609.2" r="2.40" stroke="#F8766D"/><circle cx="497.6" cy="605.1" r="2.40" stroke="#F8766D"/><circle cx="494.7" cy="609.2" r="2.40" stroke="#F8766D"/><circle cx="494.7" cy="579.6" r="2.40" stroke="#F8766D"/><circle cx="503.0" cy="583.2" r="2.40" stroke="#F8766D"/><circle cx="513.7" cy="578.8" r="2.40" stroke="#F8766D"/><circle cx="513.7" cy="591.2" r="2.40" stroke="#F8766D"/><circle cx="540.7" cy="573.0" r="2.40" stroke="#F8766D"/><circle cx="540.7" cy="583.2" r="2.40" stroke="#F8766D"/><circle cx="540.7" cy="589.0" r="2.40" stroke="#F8766D"/><circle cx="635.1" cy="484.6" r="2.40" stroke="#F8766D"/><circle cx="591.3" cy="491.2" r="2.40" stroke="#F8766D"/><circle cx="574.5" cy="522.3" r="2.40" stroke="#F8766D"/><circle cx="562.0" cy="590.0" r="2.40" stroke="#F8766D"/><circle cx="572.2" cy="572.2" r="2.40" stroke="#F8766D"/><circle cx="589.0" cy="573.7" r="2.40" stroke="#F8766D"/><circle cx="622.6" cy="620.0" r="2.40" stroke="#F8766D"/><path d="M387.8 639.37L390.73 642.3L387.8 645.23L384.87 642.3Z" stroke="#2ECC48"/><path d="M409.6 621.77L412.53 624.7L409.6 627.63L406.67 624.7Z" stroke="#2ECC48"/><path d="M408.8 626.97L411.73 629.9L408.8 632.83L405.87 629.9Z" stroke="#2ECC48"/><path d="M408.8 631.27L411.73 634.2L408.8 637.13L405.87 634.2Z" stroke="#2ECC48"/><path d="M411.0 632.77L413.93 635.7L411.0 638.63L408.07 635.7Z" stroke="#2ECC48"/><path d="M411.0 635.67L413.93 638.6L411.0 641.53L408.07 638.6Z" stroke="#2ECC48"/><path d="M417.3 625.17L420.23 628.1L417.3 631.03L414.37 628.1Z" stroke="#2ECC48"/><path d="M427.5 622.57L430.43 625.5L427.5 628.43L424.57 625.5Z" stroke="#2ECC48"/><path d="M438.0 601.37L440.93 604.3L438.0 607.23L435.07 604.3Z" stroke="#2ECC48"/><path d="M438.0 616.57L440.93 619.5L438.0 622.43L435.07 619.5Z" stroke="#2ECC48"/><path d="M438.0 633.47L440.93 636.4L438.0 639.33L435.07 636.4Z" stroke="#2ECC48"/><path d="M459.2 625.47L462.13 628.4L459.2 631.33L456.27 628.4Z" stroke="#2ECC48"/><path d="M494.7 602.57L497.63 605.5L494.7 608.43L491.77 605.5Z" stroke="#2ECC48"/><path d="M503.0 580.27L505.93 583.2L503.0 586.13L500.07 583.2Z" stroke="#2ECC48"/><path d="M513.7 585.37L516.63 588.3L513.7 591.23L510.77 588.3Z" stroke="#2ECC48"/><path d="M513.7 588.27L516.63 591.2L513.7 594.13L510.77 591.2Z" stroke="#2ECC48"/><path d="M540.7 566.37L543.63 569.3L540.7 572.23L537.77 569.3Z" stroke="#2ECC48"/><path d="M540.7 586.07L543.63 589.0L540.7 591.93L537.77 589.0Z" stroke="#2ECC48"/><path d="M591.3 488.27L594.23 491.2L591.3 494.13L588.37 491.2Z" stroke="#2ECC48"/><path d="M574.5 516.67L577.43 519.6L574.5 522.53L571.57 519.6Z" stroke="#2ECC48"/><path d="M572.3 542.57L575.23 545.5L572.3 548.43L569.37 545.5Z" stroke="#2ECC48"/><path d="M561.8 561.27L564.73 564.2L561.8 567.13L558.87 564.2Z" stroke="#2ECC48"/><path d="M589.1 557.57L592.03 560.5L589.1 563.43L586.17 560.5Z" stroke="#2ECC48"/><path d="M622.6 614.07L625.53 617.0L622.6 619.93L619.67 617.0Z" stroke="#2ECC48"/><path d="M387.8 632.20L391.03 637.80L384.57 637.80Z" stroke="#619CFF"/><path d="M387.8 639.50L391.03 645.10L384.57 645.10Z" stroke="#619CFF"/><path d="M408.8 624.90L412.03 630.50L405.57 630.50Z" stroke="#619CFF"/><path d="M408.8 627.10L412.03 632.70L405.57 632.70Z" stroke="#619CFF"/><path d="M411.0 635.80L414.23 641.40L407.77 641.40Z" stroke="#619CFF"/><path d="M417.3 632.20L420.53 637.80L414.07 637.80Z" stroke="#619CFF"/><path d="M427.5 622.70L430.73 628.30L424.27 628.30Z" stroke="#619CFF"/><path d="M427.5 631.40L430.73 637.00L424.27 637.00Z" stroke="#619CFF"/><path d="M438.0 601.50L441.23 607.10L434.77 607.10Z" stroke="#619CFF"/><path d="M438.0 616.10L441.23 621.70L434.77 621.70Z" stroke="#619CFF"/><path d="M438.0 633.60L441.23 639.20L434.77 639.20Z" stroke="#619CFF"/><path d="M459.2 625.60L462.43 631.20L455.97 631.20Z" stroke="#619CFF"/><path d="M476.0 610.00L479.23 615.60L472.77 615.60Z" stroke="#619CFF"/><path d="M494.7 602.70L497.93 608.30L491.47 608.30Z" stroke="#619CFF"/><path d="M494.7 606.40L497.93 612.00L491.47 612.00Z" stroke="#619CFF"/><path d="M503.0 580.40L506.23 586.00L499.77 586.00Z" stroke="#619CFF"/><path d="M513.7 576.80L516.93 582.40L510.47 582.40Z" stroke="#619CFF"/><path d="M513.7 585.50L516.93 591.10L510.47 591.10Z" stroke="#619CFF"/><path d="M540.7 570.20L543.93 575.80L537.47 575.80Z" stroke="#619CFF"/><path d="M540.7 587.70L543.93 593.30L537.47 593.30Z" stroke="#619CFF"/><path d="M635.1 481.80L638.33 487.40L631.87 487.40Z" stroke="#619CFF"/><path d="M574.5 527.10L577.73 532.70L571.27 532.70Z" stroke="#619CFF"/><path d="M589.1 562.10L592.33 567.70L585.87 567.70Z" stroke="#619CFF"/><path d="M562.0 577.00L565.23 582.60L558.77 582.60Z" stroke="#619CFF"/><path d="M572.2 571.90L575.43 577.50L568.97 577.50Z" stroke="#619CFF"/><path d="M622.6 617.20L625.83 622.80L619.37 622.80Z" stroke="#619CFF"/></g>
<text transform="translate(368.16,661.80) scale(0.9350,1)" font-size="8.05" fill="#4D4D4D" stroke="#4D4D4D" stroke-width="0.22">0</text>
<text transform="translate(364.00,618.18) scale(0.9350,1)" font-size="8.05" fill="#4D4D4D" stroke="#4D4D4D" stroke-width="0.22">25</text>
<text transform="translate(363.97,574.55) scale(0.9350,1)" font-size="8.05" fill="#4D4D4D" stroke="#4D4D4D" stroke-width="0.22">50</text>
<text transform="translate(364.00,530.93) scale(0.9350,1)" font-size="8.05" fill="#4D4D4D" stroke="#4D4D4D" stroke-width="0.22">75</text>
<text transform="translate(359.79,487.30) scale(0.9350,1)" font-size="8.05" fill="#4D4D4D" stroke="#4D4D4D" stroke-width="0.22">100</text>
<text transform="translate(377.22,676.05) scale(0.9350,1)" font-size="8.05" fill="#4D4D4D" stroke="#4D4D4D" stroke-width="0.22">20</text>
<text transform="translate(450.64,676.05) scale(0.9350,1)" font-size="8.05" fill="#4D4D4D" stroke="#4D4D4D" stroke-width="0.22">25</text>
<text transform="translate(524.07,676.05) scale(0.9350,1)" font-size="8.05" fill="#4D4D4D" stroke="#4D4D4D" stroke-width="0.22">30</text>
<text transform="translate(597.48,676.05) scale(0.9350,1)" font-size="8.05" fill="#4D4D4D" stroke="#4D4D4D" stroke-width="0.22">35</text>
<text transform="translate(459.69,687.10) scale(0.9150,1)" font-size="10.5" fill="#000" stroke="#000" stroke-width="0.22">Gestational Age (weeks)</text>
<text transform="translate(355.05,647.82) rotate(-90) scale(0.9930,1)" font-size="9.55" fill="#000" stroke="#000" stroke-width="0.22">Volume of SR Reconstructions, (mL)</text>
<text transform="translate(658.07,556.10) scale(0.9120,1)" font-size="10.4" fill="#000" stroke="#000" stroke-width="0.22">Rater</text>
<g fill="none" stroke-width="0.8"><circle cx="663.6" cy="567.4" r="2.40" stroke="#F8766D"/></g>
<text transform="translate(673.84,570.25) scale(0.9600,1)" font-size="7.8" fill="#000" stroke="#000" stroke-width="0.22">R1</text>
<g fill="none" stroke-width="0.8"><path d="M663.6 575.47L666.58 578.4L663.6 581.33L660.72 578.4Z" stroke="#2ECC48"/></g>
<text transform="translate(673.84,581.25) scale(0.9600,1)" font-size="7.8" fill="#000" stroke="#000" stroke-width="0.22">R2</text>
<g fill="none" stroke-width="0.8"><path d="M663.6 585.90L666.88 591.50L660.42 591.50Z" stroke="#619CFF"/></g>
<text transform="translate(673.84,592.25) scale(0.9600,1)" font-size="7.8" fill="#000" stroke="#000" stroke-width="0.22">R3</text></g>
</svg>
</body></html>
